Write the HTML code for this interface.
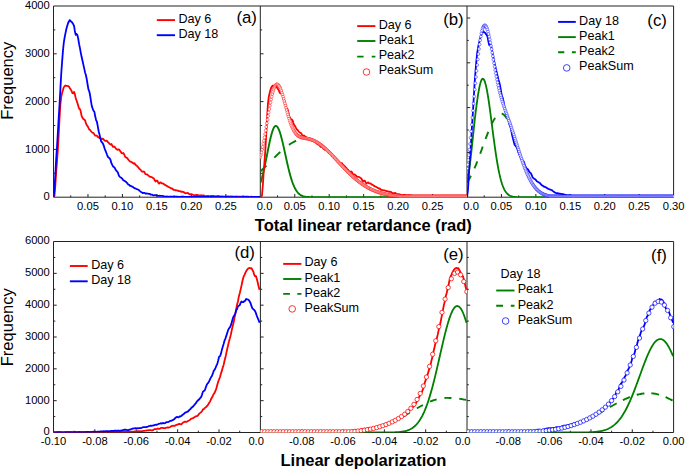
<!DOCTYPE html>
<html><head><meta charset="utf-8"><title>Histograms</title>
<style>html,body{margin:0;padding:0;background:#fff;overflow:hidden}svg{display:block}text{font-family:"Liberation Sans",sans-serif}</style>
</head><body>
<svg width="685" height="471" viewBox="0 0 685 471">
<rect width="685" height="471" fill="#fff"/>
<defs>
<clipPath id="ca"><rect x="53.5" y="3" width="206.8" height="194.2"/></clipPath>
<clipPath id="cb"><rect x="260.3" y="3" width="206.7" height="194.2"/></clipPath>
<clipPath id="cc"><rect x="467" y="3" width="206.6" height="194.2"/></clipPath>
<clipPath id="cd"><rect x="53.5" y="238.5" width="206.9" height="194"/></clipPath>
<clipPath id="ce"><rect x="260.4" y="238.5" width="206.6" height="194"/></clipPath>
<clipPath id="cf"><rect x="467" y="238.5" width="206.6" height="194"/></clipPath>
</defs>
<path d="M53.5 6 H673.6 V197.2 H53.5 Z" fill="none" stroke="#222" stroke-width="1"/>
<path d="M260.3 6 V197.2" stroke="#222" stroke-width="1"/>
<path d="M467 6 V197.2" stroke="#222" stroke-width="1"/>
<path d="M53.5 241.5 H673.6 V432.5 H53.5 Z" fill="none" stroke="#222" stroke-width="1"/>
<path d="M260.4 241.5 V432.5" stroke="#222" stroke-width="1"/>
<path d="M467 241.5 V432.5" stroke="#222" stroke-width="1"/>
<path d="M70.73 197.2 v-1.8 M87.97 197.2 v-3.2 M105.2 197.2 v-1.8 M122.43 197.2 v-3.2 M139.67 197.2 v-1.8 M156.9 197.2 v-3.2 M174.13 197.2 v-1.8 M191.37 197.2 v-3.2 M208.6 197.2 v-1.8 M225.83 197.2 v-3.2 M243.07 197.2 v-1.8 M277.53 197.2 v-1.8 M294.75 197.2 v-3.2 M311.98 197.2 v-1.8 M329.2 197.2 v-3.2 M346.43 197.2 v-1.8 M363.65 197.2 v-3.2 M380.88 197.2 v-1.8 M398.1 197.2 v-3.2 M415.32 197.2 v-1.8 M432.55 197.2 v-3.2 M449.77 197.2 v-1.8 M484.22 197.2 v-1.8 M501.43 197.2 v-3.2 M518.65 197.2 v-1.8 M535.87 197.2 v-3.2 M553.08 197.2 v-1.8 M570.3 197.2 v-3.2 M587.52 197.2 v-1.8 M604.73 197.2 v-3.2 M621.95 197.2 v-1.8 M639.17 197.2 v-3.2 M656.38 197.2 v-1.8 M53.5 173.3 h1.8 M53.5 149.4 h3.2 M53.5 125.5 h1.8 M53.5 101.6 h3.2 M53.5 77.7 h1.8 M53.5 53.8 h3.2 M53.5 29.9 h1.8 M260.3 173.3 h1.8 M260.3 149.4 h3.2 M260.3 125.5 h1.8 M260.3 101.6 h3.2 M260.3 77.7 h1.8 M260.3 53.8 h3.2 M260.3 29.9 h1.8 M467 174.8 h1.8 M467 152.4 h3.2 M467 130 h1.8 M467 107.6 h3.2 M467 85.2 h1.8 M467 62.8 h3.2 M467 40.4 h1.8 M467 18 h3.2 M74.19 432.5 v-1.8 M94.88 432.5 v-3.2 M115.57 432.5 v-1.8 M136.26 432.5 v-3.2 M156.95 432.5 v-1.8 M177.64 432.5 v-3.2 M198.33 432.5 v-1.8 M219.02 432.5 v-3.2 M239.71 432.5 v-1.8 M281.06 432.5 v-1.8 M301.72 432.5 v-3.2 M322.38 432.5 v-1.8 M343.04 432.5 v-3.2 M363.7 432.5 v-1.8 M384.36 432.5 v-3.2 M405.02 432.5 v-1.8 M425.68 432.5 v-3.2 M446.34 432.5 v-1.8 M487.66 432.5 v-1.8 M508.32 432.5 v-3.2 M528.98 432.5 v-1.8 M549.64 432.5 v-3.2 M570.3 432.5 v-1.8 M590.96 432.5 v-3.2 M611.62 432.5 v-1.8 M632.28 432.5 v-3.2 M652.94 432.5 v-1.8 M53.5 416.58 h1.8 M53.5 400.67 h3.2 M53.5 384.75 h1.8 M53.5 368.84 h3.2 M53.5 352.93 h1.8 M53.5 337.01 h3.2 M53.5 321.1 h1.8 M53.5 305.18 h3.2 M53.5 289.26 h1.8 M53.5 273.35 h3.2 M53.5 257.44 h1.8 M260.4 416.58 h1.8 M260.4 400.67 h3.2 M260.4 384.75 h1.8 M260.4 368.84 h3.2 M260.4 352.93 h1.8 M260.4 337.01 h3.2 M260.4 321.1 h1.8 M260.4 305.18 h3.2 M260.4 289.26 h1.8 M260.4 273.35 h3.2 M260.4 257.44 h1.8 M467 416.58 h1.8 M467 400.67 h3.2 M467 384.75 h1.8 M467 368.84 h3.2 M467 352.93 h1.8 M467 337.01 h3.2 M467 321.1 h1.8 M467 305.18 h3.2 M467 289.26 h1.8 M467 273.35 h3.2 M467 257.44 h1.8" stroke="#222" stroke-width="1"/>
<path d="M53.6 197.2 L54.45 195.61 L55.3 185.87 L56.15 172.64 L57 161.56 L57.85 149.89 L58.7 135.01 L59.55 118.19 L60.4 104.29 L61.25 96.89 L62.1 93.1 L62.95 90.08 L63.8 87.3 L64.65 86.21 L65.5 85.49 L66.35 85.93 L67.2 85.96 L68.05 86.05 L68.9 86.58 L69.75 88.01 L70.6 89.32 L71.45 90.63 L72.3 93.03 L73.15 93.42 L74 91.85 L74.85 94.11 L75.7 98.05 L76.55 100.52 L77.4 102.93 L78.25 105.75 L79.1 108.72 L79.95 109.03 L80.8 111.84 L81.65 116.09 L82.5 117.82 L83.35 119.08 L84.2 119.52 L85.05 120.34 L85.9 123.12 L86.75 125.06 L87.6 126.05 L88.45 127.89 L89.3 129.46 L90.15 130.02 L91 131.22 L91.85 132.22 L92.7 132.69 L93.55 133.14 L94.4 134.55 L95.25 135.6 L96.1 135.65 L96.95 135.71 L97.8 136.89 L98.65 137.26 L99.5 138.01 L100.35 137.87 L101.2 139.1 L102.05 139.05 L102.9 138.6 L103.75 139.54 L104.6 140.56 L105.45 140.99 L106.3 140.6 L107.15 141.05 L108 142.35 L108.85 142.91 L109.7 143.95 L110.55 144.5 L111.4 143.96 L112.25 145.57 L113.1 146.95 L113.95 146.6 L114.8 146.86 L115.65 148.33 L116.5 149.11 L117.35 149.78 L118.2 149.46 L119.05 149.38 L119.9 150.66 L120.75 151.72 L121.6 153.08 L122.45 153.37 L123.3 153 L124.15 154.24 L125 156.55 L125.85 157.47 L126.7 157.57 L127.55 158.58 L128.4 159.75 L129.25 160.66 L130.1 161.48 L130.95 161.79 L131.8 162.1 L132.65 162.88 L133.5 163.67 L134.35 163.09 L135.2 164.44 L136.05 165.39 L136.9 165.64 L137.75 166.9 L138.6 167.68 L139.45 168.88 L140.3 169.47 L141.15 170.55 L142 171.58 L142.85 171.73 L143.7 171.51 L144.55 172.24 L145.4 174.2 L146.25 174.32 L147.1 174.41 L147.95 175.2 L148.8 175.82 L149.65 176.6 L150.5 176.81 L151.35 176.99 L152.2 177.31 L153.05 178.08 L153.9 178.58 L154.75 180.37 L155.6 181.43 L156.45 180.59 L157.3 180.59 L158.15 182.48 L159 183.59 L159.85 182.56 L160.7 182.5 L161.55 183.36 L162.4 183.36 L163.25 183.66 L164.1 184.26 L164.95 184.95 L165.8 185.28 L166.65 185.93 L167.5 186.35 L168.35 186.71 L169.2 187.32 L170.05 187.77 L170.9 188.34 L171.75 188.39 L172.6 188.89 L173.45 189.91 L174.3 189.91 L175.15 190.03 L176 190.34 L176.85 190.32 L177.7 190.58 L178.55 191.05 L179.4 191.17 L180.25 191.16 L181.1 191.78 L181.95 191.76 L182.8 191.75 L183.65 192.08 L184.5 192.73 L185.35 193.35 L186.2 193.06 L187.05 193.15 L187.9 193 L188.75 193.67 L189.6 194.19 L190.45 194.06 L191.3 194.07 L192.15 194.45 L193 194.77 L193.85 195.03 L194.7 195.3 L195.55 195.02 L196.4 194.85 L197.25 195 L198.1 195.16 L198.95 195.29 L199.8 195.37 L200.65 195.36 L201.5 195.26 L202.35 195.59 L203.2 195.51 L204.05 195.49 L204.9 195.85 L205.75 196.05 L206.6 195.98 L207.45 195.86 L208.3 195.91 L209.15 196.36 L210 196.17 L210.85 195.83 L211.7 195.85 L212.55 195.94 L213.4 195.86 L214.25 196.02 L215.1 196.11 L215.95 196.32 L216.8 196.22 L217.65 195.87 L218.5 196.02 L219.35 196.07 L220.2 196.32 L221.05 196.35 L221.9 196.32 L222.75 196.28 L223.6 196.58 L224.45 196.61 L225.3 196.35 L226.15 196.38 L227 196.36 L227.85 196.37 L228.7 196.4 L229.55 196.6 L230.4 196.46 L231.25 196.48 L232.1 196.56 L232.95 196.51 L233.8 196.53 L234.65 196.54 L235.5 196.56 L236.35 196.52 L237.2 196.58 L238.05 196.63 L238.9 196.65 L239.75 196.68 L240.6 196.71 L241.45 196.76 L242.3 196.72 L243.15 196.71 L244 196.69 L244.85 196.68 L245.7 196.68 L246.55 196.76 L247.4 196.7 L248.25 196.73 L249.1 196.82 L249.95 196.84 L250.8 196.76 L251.65 196.7 L252.5 196.82 L253.35 196.84 L254.2 196.78 L255.05 196.86 L255.9 196.81 L256.75 196.79 L257.6 196.86 L258.45 196.88 L259.3 196.87 L260.15 196.81" fill="none" stroke="#ff0000" stroke-width="1.8" stroke-linejoin="round" clip-path="url(#ca)"/>
<path d="M53.6 197.2 L54.45 189.67 L55.3 174.69 L56.15 159.39 L57 146.87 L57.85 132.91 L58.7 117.93 L59.55 104.12 L60.4 88.69 L61.25 73.5 L62.1 61.9 L62.95 50.97 L63.8 42.68 L64.65 37.27 L65.5 33.09 L66.35 29.04 L67.2 26.11 L68.05 23.23 L68.9 21.52 L69.75 20.07 L70.6 21.14 L71.45 21.66 L72.3 22.78 L73.15 24.1 L74 25.7 L74.85 30.98 L75.7 34.93 L76.55 33.95 L77.4 35.12 L78.25 38.85 L79.1 44.18 L79.95 48.08 L80.8 52.84 L81.65 57.07 L82.5 60.8 L83.35 64.58 L84.2 68.42 L85.05 72.53 L85.9 75.02 L86.75 79.21 L87.6 84.51 L88.45 89.38 L89.3 91.54 L90.15 95.52 L91 101.32 L91.85 106.28 L92.7 108.6 L93.55 110.74 L94.4 111.79 L95.25 116.58 L96.1 120.05 L96.95 121.97 L97.8 126.41 L98.65 131.23 L99.5 134.56 L100.35 138.27 L101.2 141.47 L102.05 142.38 L102.9 143.55 L103.75 145.59 L104.6 148.53 L105.45 150.63 L106.3 152.74 L107.15 155.06 L108 157.06 L108.85 157.7 L109.7 158.41 L110.55 159.98 L111.4 163.18 L112.25 164.87 L113.1 166.53 L113.95 167.11 L114.8 167.99 L115.65 169.82 L116.5 170.94 L117.35 171.68 L118.2 173.49 L119.05 175.94 L119.9 176.83 L120.75 177.54 L121.6 178.09 L122.45 178.91 L123.3 180.25 L124.15 180.7 L125 181.07 L125.85 181.85 L126.7 182.45 L127.55 183.62 L128.4 184.54 L129.25 184.8 L130.1 185.8 L130.95 185.95 L131.8 186.45 L132.65 186.81 L133.5 187.5 L134.35 188.14 L135.2 188.45 L136.05 188.78 L136.9 189.2 L137.75 189.51 L138.6 189.81 L139.45 190.66 L140.3 191.46 L141.15 192.01 L142 192.5 L142.85 193.12 L143.7 192.84 L144.55 192.89 L145.4 193.5 L146.25 193.32 L147.1 193.7 L147.95 193.7 L148.8 193.89 L149.65 193.82 L150.5 194.49 L151.35 194.55 L152.2 194.64 L153.05 195.28 L153.9 195.35 L154.75 195.21 L155.6 195.17 L156.45 195.37 L157.3 195.56 L158.15 195.81 L159 195.87 L159.85 195.73 L160.7 195.79 L161.55 195.89 L162.4 195.95 L163.25 196.14 L164.1 196.34 L164.95 196.53 L165.8 196.6 L166.65 196.49 L167.5 196.55 L168.35 196.61 L169.2 196.77 L170.05 196.69 L170.9 196.65 L171.75 196.57 L172.6 196.59 L173.45 196.68 L174.3 196.69 L175.15 196.7 L176 196.64 L176.85 196.73 L177.7 196.75 L178.55 196.86 L179.4 196.82 L180.25 196.82 L181.1 196.73 L181.95 196.77 L182.8 196.74 L183.65 196.76 L184.5 196.8 L185.35 196.81 L186.2 196.86 L187.05 196.9 L187.9 196.9 L188.75 196.82 L189.6 196.74 L190.45 196.77 L191.3 196.79 L192.15 196.74 L193 196.87 L193.85 196.87 L194.7 196.87 L195.55 196.94 L196.4 196.95 L197.25 196.89 L198.1 196.84 L198.95 196.9 L199.8 196.91 L200.65 196.88 L201.5 196.96 L202.35 196.92 L203.2 196.81 L204.05 196.86 L204.9 196.87 L205.75 196.97 L206.6 196.97 L207.45 196.86 L208.3 196.86 L209.15 196.91 L210 196.95 L210.85 197.02 L211.7 197 L212.55 196.95 L213.4 196.93 L214.25 196.85 L215.1 196.94 L215.95 196.99 L216.8 196.94 L217.65 196.92 L218.5 197 L219.35 197.06 L220.2 196.98 L221.05 196.92 L221.9 196.98 L222.75 196.89 L223.6 196.94 L224.45 196.95 L225.3 196.98 L226.15 196.96 L227 197.02 L227.85 196.97 L228.7 196.85 L229.55 196.83 L230.4 196.94 L231.25 197.03 L232.1 197 L232.95 196.97 L233.8 196.97 L234.65 197.01 L235.5 197.01 L236.35 196.98 L237.2 196.95 L238.05 197.04 L238.9 197.04 L239.75 196.97 L240.6 197.08 L241.45 197.04 L242.3 196.94 L243.15 196.89 L244 196.99 L244.85 197.01 L245.7 196.94 L246.55 196.91 L247.4 197 L248.25 196.97 L249.1 197 L249.95 197.15 L250.8 197.15 L251.65 197.06 L252.5 196.99 L253.35 196.98 L254.2 196.9 L255.05 196.95 L255.9 196.94 L256.75 196.9 L257.6 196.91 L258.45 197 L259.3 197.01 L260.15 197.01" fill="none" stroke="#0000ff" stroke-width="1.8" stroke-linejoin="round" clip-path="url(#ca)"/>
<path d="M260.4 182.85 L261.25 180.16 L262.1 177.15 L262.95 173.85 L263.8 170.27 L264.65 166.43 L265.5 162.4 L266.35 158.22 L267.2 153.95 L268.05 149.69 L268.9 145.52 L269.75 141.53 L270.6 137.81 L271.45 134.46 L272.3 131.57 L273.15 129.21 L274 127.44 L274.85 126.33 L275.7 125.9 L276.55 126.13 L277.4 126.93 L278.25 128.28 L279.1 130.16 L279.95 132.52 L280.8 135.31 L281.65 138.45 L282.5 141.89 L283.35 145.56 L284.2 149.37 L285.05 153.26 L285.9 157.17 L286.75 161.02 L287.6 164.77 L288.45 168.37 L289.3 171.78 L290.15 174.97 L291 177.91 L291.85 180.6 L292.7 183.04 L293.55 185.21 L294.4 187.13 L295.25 188.82 L296.1 190.28 L296.95 191.53 L297.8 192.59 L298.65 193.49 L299.5 194.23 L300.35 194.85 L301.2 195.35 L302.05 195.76 L302.9 196.08 L303.75 196.34 L304.6 196.55 L305.45 196.71 L306.3 196.83 L307.15 196.93 L308 197 L308.85 197.05 L309.7 197.09 L310.55 197.12 L311.4 197.15 L312.25 197.16 L313.1 197.17 L313.95 197.18 L314.8 197.19 L315.65 197.19 L316.5 197.19 L317.35 197.2 L318.2 197.2 L319.05 197.2 L319.9 197.2 L320.75 197.2 L321.6 197.2 L322.45 197.2 L323.3 197.2 L324.15 197.2 L325 197.2 L325.85 197.2 L326.7 197.2 L327.55 197.2 L328.4 197.2 L329.25 197.2 L330.1 197.2 L330.95 197.2 L331.8 197.2 L332.65 197.2 L333.5 197.2 L334.35 197.2 L335.2 197.2 L336.05 197.2 L336.9 197.2 L337.75 197.2 L338.6 197.2 L339.45 197.2 L340.3 197.2 L341.15 197.2 L342 197.2 L342.85 197.2 L343.7 197.2 L344.55 197.2 L345.4 197.2 L346.25 197.2 L347.1 197.2 L347.95 197.2 L348.8 197.2 L349.65 197.2 L350.5 197.2 L351.35 197.2 L352.2 197.2 L353.05 197.2 L353.9 197.2 L354.75 197.2 L355.6 197.2 L356.45 197.2 L357.3 197.2 L358.15 197.2 L359 197.2 L359.85 197.2 L360.7 197.2 L361.55 197.2 L362.4 197.2 L363.25 197.2 L364.1 197.2 L364.95 197.2 L365.8 197.2 L366.65 197.2 L367.5 197.2 L368.35 197.2 L369.2 197.2 L370.05 197.2 L370.9 197.2 L371.75 197.2 L372.6 197.2 L373.45 197.2 L374.3 197.2 L375.15 197.2 L376 197.2 L376.85 197.2 L377.7 197.2 L378.55 197.2 L379.4 197.2 L380.25 197.2 L381.1 197.2 L381.95 197.2 L382.8 197.2 L383.65 197.2 L384.5 197.2 L385.35 197.2 L386.2 197.2 L387.05 197.2 L387.9 197.2 L388.75 197.2 L389.6 197.2 L390.45 197.2 L391.3 197.2 L392.15 197.2 L393 197.2 L393.85 197.2 L394.7 197.2 L395.55 197.2 L396.4 197.2 L397.25 197.2 L398.1 197.2 L398.95 197.2 L399.8 197.2 L400.65 197.2 L401.5 197.2 L402.35 197.2 L403.2 197.2 L404.05 197.2 L404.9 197.2 L405.75 197.2 L406.6 197.2 L407.45 197.2 L408.3 197.2 L409.15 197.2 L410 197.2 L410.85 197.2 L411.7 197.2 L412.55 197.2 L413.4 197.2 L414.25 197.2 L415.1 197.2 L415.95 197.2 L416.8 197.2 L417.65 197.2 L418.5 197.2 L419.35 197.2 L420.2 197.2 L421.05 197.2 L421.9 197.2 L422.75 197.2 L423.6 197.2 L424.45 197.2 L425.3 197.2 L426.15 197.2 L427 197.2 L427.85 197.2 L428.7 197.2 L429.55 197.2 L430.4 197.2 L431.25 197.2 L432.1 197.2 L432.95 197.2 L433.8 197.2 L434.65 197.2 L435.5 197.2 L436.35 197.2 L437.2 197.2 L438.05 197.2 L438.9 197.2 L439.75 197.2 L440.6 197.2 L441.45 197.2 L442.3 197.2 L443.15 197.2 L444 197.2 L444.85 197.2 L445.7 197.2 L446.55 197.2 L447.4 197.2 L448.25 197.2 L449.1 197.2 L449.95 197.2 L450.8 197.2 L451.65 197.2 L452.5 197.2 L453.35 197.2 L454.2 197.2 L455.05 197.2 L455.9 197.2 L456.75 197.2 L457.6 197.2 L458.45 197.2 L459.3 197.2 L460.15 197.2 L461 197.2 L461.85 197.2 L462.7 197.2 L463.55 197.2 L464.4 197.2 L465.25 197.2 L466.1 197.2 L466.95 197.2" fill="none" stroke="#008000" stroke-width="1.9" stroke-linejoin="round" clip-path="url(#cb)"/>
<path d="M260.4 171.38 L261.25 170.58 L262.1 169.77 L262.95 168.96 L263.8 168.13 L264.65 167.3 L265.5 166.47 L266.35 165.63 L267.2 164.78 L268.05 163.93 L268.9 163.08 L269.75 162.23 L270.6 161.38 L271.45 160.52 L272.3 159.67 L273.15 158.83 L274 157.98 L274.85 157.14 L275.7 156.31 L276.55 155.48 L277.4 154.66 L278.25 153.85 L279.1 153.05 L279.95 152.26 L280.8 151.48 L281.65 150.72 L282.5 149.97 L283.35 149.24 L284.2 148.52 L285.05 147.82 L285.9 147.14 L286.75 146.48 L287.6 145.85 L288.45 145.23 L289.3 144.64 L290.15 144.07 L291 143.52 L291.85 143.01 L292.7 142.52 L293.55 142.05 L294.4 141.62 L295.25 141.21 L296.1 140.83 L296.95 140.49 L297.8 140.17 L298.65 139.89 L299.5 139.64 L300.35 139.42 L301.2 139.23 L302.05 139.08 L302.9 138.96 L303.75 138.87 L304.6 138.82 L305.45 138.8 L306.3 138.82 L307.15 138.87 L308 138.97 L308.85 139.1 L309.7 139.28 L310.55 139.49 L311.4 139.74 L312.25 140.03 L313.1 140.35 L313.95 140.71 L314.8 141.1 L315.65 141.53 L316.5 142 L317.35 142.49 L318.2 143.02 L319.05 143.58 L319.9 144.17 L320.75 144.79 L321.6 145.44 L322.45 146.11 L323.3 146.81 L324.15 147.53 L325 148.27 L325.85 149.04 L326.7 149.82 L327.55 150.62 L328.4 151.45 L329.25 152.28 L330.1 153.13 L330.95 154 L331.8 154.87 L332.65 155.76 L333.5 156.65 L334.35 157.55 L335.2 158.46 L336.05 159.37 L336.9 160.29 L337.75 161.21 L338.6 162.12 L339.45 163.04 L340.3 163.96 L341.15 164.87 L342 165.78 L342.85 166.69 L343.7 167.58 L344.55 168.48 L345.4 169.36 L346.25 170.23 L347.1 171.1 L347.95 171.95 L348.8 172.79 L349.65 173.62 L350.5 174.44 L351.35 175.24 L352.2 176.03 L353.05 176.81 L353.9 177.57 L354.75 178.31 L355.6 179.04 L356.45 179.75 L357.3 180.44 L358.15 181.12 L359 181.78 L359.85 182.43 L360.7 183.05 L361.55 183.66 L362.4 184.25 L363.25 184.83 L364.1 185.38 L364.95 185.92 L365.8 186.45 L366.65 186.95 L367.5 187.44 L368.35 187.91 L369.2 188.36 L370.05 188.8 L370.9 189.22 L371.75 189.62 L372.6 190.01 L373.45 190.39 L374.3 190.75 L375.15 191.09 L376 191.42 L376.85 191.73 L377.7 192.04 L378.55 192.32 L379.4 192.6 L380.25 192.86 L381.1 193.11 L381.95 193.35 L382.8 193.58 L383.65 193.79 L384.5 194 L385.35 194.19 L386.2 194.38 L387.05 194.55 L387.9 194.72 L388.75 194.88 L389.6 195.03 L390.45 195.17 L391.3 195.3 L392.15 195.43 L393 195.54 L393.85 195.65 L394.7 195.76 L395.55 195.86 L396.4 195.95 L397.25 196.04 L398.1 196.12 L398.95 196.2 L399.8 196.27 L400.65 196.34 L401.5 196.4 L402.35 196.46 L403.2 196.51 L404.05 196.56 L404.9 196.61 L405.75 196.66 L406.6 196.7 L407.45 196.74 L408.3 196.77 L409.15 196.81 L410 196.84 L410.85 196.87 L411.7 196.89 L412.55 196.92 L413.4 196.94 L414.25 196.96 L415.1 196.98 L415.95 197 L416.8 197.02 L417.65 197.03 L418.5 197.05 L419.35 197.06 L420.2 197.07 L421.05 197.08 L421.9 197.09 L422.75 197.1 L423.6 197.11 L424.45 197.12 L425.3 197.13 L426.15 197.13 L427 197.14 L427.85 197.14 L428.7 197.15 L429.55 197.15 L430.4 197.16 L431.25 197.16 L432.1 197.17 L432.95 197.17 L433.8 197.17 L434.65 197.18 L435.5 197.18 L436.35 197.18 L437.2 197.18 L438.05 197.18 L438.9 197.19 L439.75 197.19 L440.6 197.19 L441.45 197.19 L442.3 197.19 L443.15 197.19 L444 197.19 L444.85 197.19 L445.7 197.19 L446.55 197.19 L447.4 197.2 L448.25 197.2 L449.1 197.2 L449.95 197.2 L450.8 197.2 L451.65 197.2 L452.5 197.2 L453.35 197.2 L454.2 197.2 L455.05 197.2 L455.9 197.2 L456.75 197.2 L457.6 197.2 L458.45 197.2 L459.3 197.2 L460.15 197.2 L461 197.2 L461.85 197.2 L462.7 197.2 L463.55 197.2 L464.4 197.2 L465.25 197.2 L466.1 197.2 L466.95 197.2" fill="none" stroke="#008000" stroke-width="1.9" stroke-dasharray="8.3 11.2" stroke-dashoffset="0" clip-path="url(#cb)"/>
<path d="M261.1 197.2 L261.95 195.61 L262.8 185.87 L263.65 172.64 L264.5 161.56 L265.35 149.89 L266.2 135.01 L267.05 118.19 L267.9 104.29 L268.75 96.89 L269.6 93.1 L270.45 90.08 L271.3 87.3 L272.15 86.21 L273 85.49 L273.85 85.93 L274.7 85.96 L275.55 86.05 L276.4 86.58 L277.25 88.01 L278.1 89.32 L278.95 90.63 L279.8 93.03 L280.65 93.42 L281.5 91.85 L282.35 94.11 L283.2 98.05 L284.05 100.52 L284.9 102.93 L285.75 105.75 L286.6 108.72 L287.45 109.03 L288.3 111.84 L289.15 116.09 L290 117.82 L290.85 119.08 L291.7 119.52 L292.55 120.34 L293.4 123.12 L294.25 125.06 L295.1 126.05 L295.95 127.89 L296.8 129.46 L297.65 130.02 L298.5 131.22 L299.35 132.22 L300.2 132.69 L301.05 133.14 L301.9 134.55 L302.75 135.6 L303.6 135.65 L304.45 135.71 L305.3 136.89 L306.15 137.26 L307 138.01 L307.85 137.87 L308.7 139.1 L309.55 139.05 L310.4 138.6 L311.25 139.54 L312.1 140.56 L312.95 140.99 L313.8 140.6 L314.65 141.05 L315.5 142.35 L316.35 142.91 L317.2 143.95 L318.05 144.5 L318.9 143.96 L319.75 145.57 L320.6 146.95 L321.45 146.6 L322.3 146.86 L323.15 148.33 L324 149.11 L324.85 149.78 L325.7 149.46 L326.55 149.38 L327.4 150.66 L328.25 151.72 L329.1 153.08 L329.95 153.37 L330.8 153 L331.65 154.24 L332.5 156.55 L333.35 157.47 L334.2 157.57 L335.05 158.58 L335.9 159.75 L336.75 160.66 L337.6 161.48 L338.45 161.79 L339.3 162.1 L340.15 162.88 L341 163.67 L341.85 163.09 L342.7 164.44 L343.55 165.39 L344.4 165.64 L345.25 166.9 L346.1 167.68 L346.95 168.88 L347.8 169.47 L348.65 170.55 L349.5 171.58 L350.35 171.73 L351.2 171.51 L352.05 172.24 L352.9 174.2 L353.75 174.32 L354.6 174.41 L355.45 175.2 L356.3 175.82 L357.15 176.6 L358 176.81 L358.85 176.99 L359.7 177.31 L360.55 178.08 L361.4 178.58 L362.25 180.37 L363.1 181.43 L363.95 180.59 L364.8 180.59 L365.65 182.48 L366.5 183.59 L367.35 182.56 L368.2 182.5 L369.05 183.36 L369.9 183.36 L370.75 183.66 L371.6 184.26 L372.45 184.95 L373.3 185.28 L374.15 185.93 L375 186.35 L375.85 186.71 L376.7 187.32 L377.55 187.77 L378.4 188.34 L379.25 188.39 L380.1 188.89 L380.95 189.91 L381.8 189.91 L382.65 190.03 L383.5 190.34 L384.35 190.32 L385.2 190.58 L386.05 191.05 L386.9 191.17 L387.75 191.16 L388.6 191.78 L389.45 191.76 L390.3 191.75 L391.15 192.08 L392 192.73 L392.85 193.35 L393.7 193.06 L394.55 193.15 L395.4 193 L396.25 193.67 L397.1 194.19 L397.95 194.06 L398.8 194.07 L399.65 194.45 L400.5 194.77 L401.35 195.03 L402.2 195.3 L403.05 195.02 L403.9 194.85 L404.75 195 L405.6 195.16 L406.45 195.29 L407.3 195.37 L408.15 195.36 L409 195.26 L409.85 195.59 L410.7 195.51 L411.55 195.49 L412.4 195.85 L413.25 196.05 L414.1 195.98 L414.95 195.86 L415.8 195.91 L416.65 196.36 L417.5 196.17 L418.35 195.83 L419.2 195.85 L420.05 195.94 L420.9 195.86 L421.75 196.02 L422.6 196.11 L423.45 196.32 L424.3 196.22 L425.15 195.87 L426 196.02 L426.85 196.07 L427.7 196.32 L428.55 196.35 L429.4 196.32 L430.25 196.28 L431.1 196.58 L431.95 196.61 L432.8 196.35 L433.65 196.38 L434.5 196.36 L435.35 196.37 L436.2 196.4 L437.05 196.6 L437.9 196.46 L438.75 196.48 L439.6 196.56 L440.45 196.51 L441.3 196.53 L442.15 196.54 L443 196.56 L443.85 196.52 L444.7 196.58 L445.55 196.63 L446.4 196.65 L447.25 196.68 L448.1 196.71 L448.95 196.76 L449.8 196.72 L450.65 196.71 L451.5 196.69 L452.35 196.68 L453.2 196.68 L454.05 196.76 L454.9 196.7 L455.75 196.73 L456.6 196.82 L457.45 196.84 L458.3 196.76 L459.15 196.7 L460 196.82 L460.85 196.84 L461.7 196.78 L462.55 196.86 L463.4 196.81 L464.25 196.79 L465.1 196.86 L465.95 196.88 L466.8 196.87 L467.65 196.81" fill="none" stroke="#ff0000" stroke-width="1.8" stroke-linejoin="round" clip-path="url(#cb)"/>
<g fill="#fff" stroke="#ff0000" stroke-width="0.5" clip-path="url(#cb)"><circle cx="260.3" cy="157.42" r="1.4"/><circle cx="260.9" cy="155.02" r="1.4"/><circle cx="261.5" cy="152.45" r="1.4"/><circle cx="262.1" cy="149.73" r="1.4"/><circle cx="262.7" cy="146.85" r="1.4"/><circle cx="263.3" cy="143.83" r="1.4"/><circle cx="263.9" cy="140.66" r="1.4"/><circle cx="264.5" cy="137.38" r="1.4"/><circle cx="265.1" cy="133.98" r="1.4"/><circle cx="265.7" cy="130.49" r="1.4"/><circle cx="266.3" cy="126.94" r="1.4"/><circle cx="266.9" cy="123.34" r="1.4"/><circle cx="267.5" cy="119.73" r="1.4"/><circle cx="268.1" cy="116.13" r="1.4"/><circle cx="268.7" cy="112.57" r="1.4"/><circle cx="269.3" cy="109.1" r="1.4"/><circle cx="269.9" cy="105.73" r="1.4"/><circle cx="270.5" cy="102.51" r="1.4"/><circle cx="271.1" cy="99.47" r="1.4"/><circle cx="271.7" cy="96.63" r="1.4"/><circle cx="272.3" cy="94.04" r="1.4"/><circle cx="272.9" cy="91.72" r="1.4"/><circle cx="273.5" cy="89.68" r="1.4"/><circle cx="274.1" cy="87.96" r="1.4"/><circle cx="274.7" cy="86.57" r="1.4"/><circle cx="275.3" cy="85.52" r="1.4"/><circle cx="275.9" cy="84.81" r="1.4"/><circle cx="276.5" cy="84.42" r="1.4"/><circle cx="277.1" cy="84.33" r="1.4"/><circle cx="277.7" cy="84.51" r="1.4"/><circle cx="278.3" cy="84.98" r="1.4"/><circle cx="278.9" cy="85.71" r="1.4"/><circle cx="279.5" cy="86.69" r="1.4"/><circle cx="280.1" cy="87.9" r="1.4"/><circle cx="280.7" cy="89.33" r="1.4"/><circle cx="281.3" cy="90.95" r="1.4"/><circle cx="281.9" cy="92.73" r="1.4"/><circle cx="282.5" cy="94.66" r="1.4"/><circle cx="283.1" cy="96.71" r="1.4"/><circle cx="283.7" cy="98.85" r="1.4"/><circle cx="284.3" cy="101.06" r="1.4"/><circle cx="284.9" cy="103.32" r="1.4"/><circle cx="285.5" cy="105.59" r="1.4"/><circle cx="286.1" cy="107.87" r="1.4"/><circle cx="286.7" cy="110.12" r="1.4"/><circle cx="287.3" cy="112.33" r="1.4"/><circle cx="287.9" cy="114.49" r="1.4"/><circle cx="288.5" cy="116.57" r="1.4"/><circle cx="289.1" cy="118.57" r="1.4"/><circle cx="289.7" cy="120.47" r="1.4"/><circle cx="290.3" cy="122.27" r="1.4"/><circle cx="290.9" cy="123.97" r="1.4"/><circle cx="291.5" cy="125.54" r="1.4"/><circle cx="292.1" cy="127.01" r="1.4"/><circle cx="292.7" cy="128.35" r="1.4"/><circle cx="293.3" cy="129.58" r="1.4"/><circle cx="293.9" cy="130.7" r="1.4"/><circle cx="294.5" cy="131.71" r="1.4"/><circle cx="295.1" cy="132.62" r="1.4"/><circle cx="295.7" cy="133.42" r="1.4"/><circle cx="296.3" cy="134.14" r="1.4"/><circle cx="296.9" cy="134.77" r="1.4"/><circle cx="297.5" cy="135.32" r="1.4"/><circle cx="298.1" cy="135.79" r="1.4"/><circle cx="298.7" cy="136.21" r="1.4"/><circle cx="299.3" cy="136.56" r="1.4"/><circle cx="299.9" cy="136.87" r="1.4"/><circle cx="300.5" cy="137.12" r="1.4"/><circle cx="301.1" cy="137.35" r="1.4"/><circle cx="301.7" cy="137.54" r="1.4"/><circle cx="302.3" cy="137.7" r="1.4"/><circle cx="302.9" cy="137.84" r="1.4"/><circle cx="303.5" cy="137.97" r="1.4"/><circle cx="304.1" cy="138.08" r="1.4"/><circle cx="304.7" cy="138.18" r="1.4"/><circle cx="305.3" cy="138.28" r="1.4"/><circle cx="305.9" cy="138.38" r="1.4"/><circle cx="306.5" cy="138.48" r="1.4"/><circle cx="307.1" cy="138.59" r="1.4"/><circle cx="307.7" cy="138.71" r="1.4"/><circle cx="308.3" cy="138.83" r="1.4"/><circle cx="308.9" cy="138.97" r="1.4"/><circle cx="309.5" cy="139.12" r="1.4"/><circle cx="310.1" cy="139.28" r="1.4"/><circle cx="310.7" cy="139.46" r="1.4"/><circle cx="311.3" cy="139.65" r="1.4"/><circle cx="311.9" cy="139.86" r="1.4"/><circle cx="312.5" cy="140.08" r="1.4"/><circle cx="313.1" cy="140.32" r="1.4"/><circle cx="313.7" cy="140.58" r="1.4"/><circle cx="314.3" cy="140.85" r="1.4"/><circle cx="314.9" cy="141.14" r="1.4"/><circle cx="315.5" cy="141.45" r="1.4"/><circle cx="316.1" cy="141.77" r="1.4"/><circle cx="316.7" cy="142.11" r="1.4"/><circle cx="317.3" cy="142.46" r="1.4"/><circle cx="317.9" cy="142.83" r="1.4"/><circle cx="318.5" cy="143.21" r="1.4"/><circle cx="319.1" cy="143.61" r="1.4"/><circle cx="319.7" cy="144.03" r="1.4"/><circle cx="320.3" cy="144.46" r="1.4"/><circle cx="320.9" cy="144.9" r="1.4"/><circle cx="321.5" cy="145.36" r="1.4"/><circle cx="322.1" cy="145.83" r="1.4"/><circle cx="322.7" cy="146.31" r="1.4"/><circle cx="323.3" cy="146.81" r="1.4"/><circle cx="323.9" cy="147.31" r="1.4"/><circle cx="324.5" cy="147.83" r="1.4"/><circle cx="325.1" cy="148.36" r="1.4"/><circle cx="325.7" cy="148.9" r="1.4"/><circle cx="326.3" cy="149.45" r="1.4"/><circle cx="326.9" cy="150.01" r="1.4"/><circle cx="327.5" cy="150.58" r="1.4"/><circle cx="328.1" cy="151.15" r="1.4"/><circle cx="328.7" cy="151.74" r="1.4"/><circle cx="329.3" cy="152.33" r="1.4"/><circle cx="329.9" cy="152.93" r="1.4"/><circle cx="330.5" cy="153.54" r="1.4"/><circle cx="331.1" cy="154.15" r="1.4"/><circle cx="331.7" cy="154.77" r="1.4"/><circle cx="332.3" cy="155.39" r="1.4"/><circle cx="332.9" cy="156.02" r="1.4"/><circle cx="333.5" cy="156.65" r="1.4"/><circle cx="334.1" cy="157.29" r="1.4"/><circle cx="334.7" cy="157.93" r="1.4"/><circle cx="335.3" cy="158.57" r="1.4"/><circle cx="335.9" cy="159.21" r="1.4"/><circle cx="336.5" cy="159.86" r="1.4"/><circle cx="337.1" cy="160.5" r="1.4"/><circle cx="337.7" cy="161.15" r="1.4"/><circle cx="338.3" cy="161.8" r="1.4"/><circle cx="338.9" cy="162.45" r="1.4"/><circle cx="339.5" cy="163.1" r="1.4"/><circle cx="340.1" cy="163.74" r="1.4"/><circle cx="340.7" cy="164.39" r="1.4"/><circle cx="341.3" cy="165.03" r="1.4"/><circle cx="341.9" cy="165.67" r="1.4"/><circle cx="342.5" cy="166.31" r="1.4"/><circle cx="343.1" cy="166.95" r="1.4"/><circle cx="343.7" cy="167.58" r="1.4"/><circle cx="344.3" cy="168.21" r="1.4"/><circle cx="344.9" cy="168.84" r="1.4"/><circle cx="345.5" cy="169.46" r="1.4"/><circle cx="346.1" cy="170.08" r="1.4"/><circle cx="346.7" cy="170.69" r="1.4"/><circle cx="347.3" cy="171.3" r="1.4"/><circle cx="347.9" cy="171.9" r="1.4"/><circle cx="348.5" cy="172.5" r="1.4"/><circle cx="349.1" cy="173.09" r="1.4"/><circle cx="349.7" cy="173.67" r="1.4"/><circle cx="350.3" cy="174.25" r="1.4"/><circle cx="350.9" cy="174.82" r="1.4"/><circle cx="351.5" cy="175.38" r="1.4"/><circle cx="352.1" cy="175.94" r="1.4"/><circle cx="352.7" cy="176.49" r="1.4"/><circle cx="353.3" cy="177.03" r="1.4"/><circle cx="353.9" cy="177.57" r="1.4"/><circle cx="354.5" cy="178.09" r="1.4"/><circle cx="355.1" cy="178.61" r="1.4"/><circle cx="355.7" cy="179.12" r="1.4"/><circle cx="356.3" cy="179.62" r="1.4"/><circle cx="356.9" cy="180.12" r="1.4"/><circle cx="357.5" cy="180.61" r="1.4"/><circle cx="358.1" cy="181.08" r="1.4"/><circle cx="358.7" cy="181.55" r="1.4"/><circle cx="359.3" cy="182.01" r="1.4"/><circle cx="359.9" cy="182.46" r="1.4"/><circle cx="360.5" cy="182.91" r="1.4"/><circle cx="361.1" cy="183.34" r="1.4"/><circle cx="361.7" cy="183.77" r="1.4"/><circle cx="362.3" cy="184.19" r="1.4"/><circle cx="362.9" cy="184.59" r="1.4"/><circle cx="363.5" cy="184.99" r="1.4"/><circle cx="364.1" cy="185.38" r="1.4"/><circle cx="364.7" cy="185.77" r="1.4"/><circle cx="365.3" cy="186.14" r="1.4"/><circle cx="365.9" cy="186.51" r="1.4"/><circle cx="366.5" cy="186.86" r="1.4"/><circle cx="367.1" cy="187.21" r="1.4"/><circle cx="367.7" cy="187.55" r="1.4"/><circle cx="368.3" cy="187.88" r="1.4"/><circle cx="368.9" cy="188.2" r="1.4"/><circle cx="369.5" cy="188.52" r="1.4"/><circle cx="370.1" cy="188.82" r="1.4"/><circle cx="370.7" cy="189.12" r="1.4"/><circle cx="371.3" cy="189.41" r="1.4"/><circle cx="371.9" cy="189.69" r="1.4"/><circle cx="372.5" cy="189.97" r="1.4"/><circle cx="373.1" cy="190.23" r="1.4"/><circle cx="373.7" cy="190.49" r="1.4"/><circle cx="374.3" cy="190.75" r="1.4"/><circle cx="374.9" cy="190.99" r="1.4"/><circle cx="375.5" cy="191.23" r="1.4"/><circle cx="376.1" cy="191.46" r="1.4"/><circle cx="376.7" cy="191.68" r="1.4"/><circle cx="377.3" cy="191.9" r="1.4"/><circle cx="377.9" cy="192.11" r="1.4"/><circle cx="378.5" cy="192.31" r="1.4"/><circle cx="379.1" cy="192.5" r="1.4"/><circle cx="379.7" cy="192.69" r="1.4"/><circle cx="380.3" cy="192.88" r="1.4"/><circle cx="380.9" cy="193.06" r="1.4"/><circle cx="381.5" cy="193.23" r="1.4"/><circle cx="382.1" cy="193.39" r="1.4"/><circle cx="382.7" cy="193.55" r="1.4"/><circle cx="383.3" cy="193.71" r="1.4"/><circle cx="383.9" cy="193.86" r="1.4"/><circle cx="384.5" cy="194" r="1.4"/><circle cx="385.1" cy="194.14" r="1.4"/><circle cx="385.7" cy="194.27" r="1.4"/><circle cx="386.3" cy="194.4" r="1.4"/><circle cx="386.9" cy="194.52" r="1.4"/><circle cx="387.5" cy="194.64" r="1.4"/><circle cx="388.1" cy="194.76" r="1.4"/><circle cx="388.7" cy="194.87" r="1.4"/><circle cx="389.3" cy="194.98" r="1.4"/><circle cx="389.9" cy="195.08" r="1.4"/><circle cx="390.5" cy="195.18" r="1.4"/><circle cx="391.1" cy="195.27" r="1.4"/><circle cx="391.7" cy="195.36" r="1.4"/><circle cx="392.3" cy="195.45" r="1.4"/><circle cx="392.9" cy="195.53" r="1.4"/><circle cx="393.5" cy="195.61" r="1.4"/><circle cx="394.1" cy="195.69" r="1.4"/><circle cx="394.7" cy="195.76" r="1.4"/><circle cx="395.3" cy="195.83" r="1.4"/><circle cx="395.9" cy="195.9" r="1.4"/><circle cx="396.5" cy="195.96" r="1.4"/><circle cx="397.1" cy="196.02" r="1.4"/><circle cx="397.7" cy="196.08" r="1.4"/><circle cx="398.3" cy="196.14" r="1.4"/><circle cx="398.9" cy="196.19" r="1.4"/><circle cx="399.5" cy="196.24" r="1.4"/><circle cx="400.1" cy="196.29" r="1.4"/><circle cx="400.7" cy="196.3" r="1.4"/><circle cx="401.3" cy="196.3" r="1.4"/><circle cx="401.9" cy="196.3" r="1.4"/><circle cx="402.5" cy="196.3" r="1.4"/><circle cx="403.1" cy="196.3" r="1.4"/><circle cx="403.7" cy="196.3" r="1.4"/><circle cx="404.3" cy="196.3" r="1.4"/><circle cx="404.9" cy="196.3" r="1.4"/><circle cx="405.5" cy="196.3" r="1.4"/><circle cx="406.1" cy="196.3" r="1.4"/><circle cx="406.7" cy="196.3" r="1.4"/><circle cx="407.3" cy="196.3" r="1.4"/><circle cx="407.9" cy="196.3" r="1.4"/><circle cx="408.5" cy="196.3" r="1.4"/><circle cx="409.1" cy="196.3" r="1.4"/><circle cx="409.7" cy="196.3" r="1.4"/><circle cx="410.3" cy="196.3" r="1.4"/><circle cx="410.9" cy="196.3" r="1.4"/><circle cx="411.5" cy="196.3" r="1.4"/><circle cx="412.1" cy="196.3" r="1.4"/><circle cx="412.7" cy="196.3" r="1.4"/><circle cx="413.3" cy="196.3" r="1.4"/><circle cx="413.9" cy="196.3" r="1.4"/><circle cx="414.5" cy="196.3" r="1.4"/><circle cx="415.1" cy="196.3" r="1.4"/><circle cx="415.7" cy="196.3" r="1.4"/><circle cx="416.3" cy="196.3" r="1.4"/><circle cx="416.9" cy="196.3" r="1.4"/><circle cx="417.5" cy="196.3" r="1.4"/><circle cx="418.1" cy="196.3" r="1.4"/><circle cx="418.7" cy="196.3" r="1.4"/><circle cx="419.3" cy="196.3" r="1.4"/><circle cx="419.9" cy="196.3" r="1.4"/><circle cx="420.5" cy="196.3" r="1.4"/><circle cx="421.1" cy="196.3" r="1.4"/><circle cx="421.7" cy="196.3" r="1.4"/><circle cx="422.3" cy="196.3" r="1.4"/><circle cx="422.9" cy="196.3" r="1.4"/><circle cx="423.5" cy="196.3" r="1.4"/><circle cx="424.1" cy="196.3" r="1.4"/><circle cx="424.7" cy="196.3" r="1.4"/><circle cx="425.3" cy="196.3" r="1.4"/><circle cx="425.9" cy="196.3" r="1.4"/><circle cx="426.5" cy="196.3" r="1.4"/><circle cx="427.1" cy="196.3" r="1.4"/><circle cx="427.7" cy="196.3" r="1.4"/><circle cx="428.3" cy="196.3" r="1.4"/><circle cx="428.9" cy="196.3" r="1.4"/><circle cx="429.5" cy="196.3" r="1.4"/><circle cx="430.1" cy="196.3" r="1.4"/><circle cx="430.7" cy="196.3" r="1.4"/><circle cx="431.3" cy="196.3" r="1.4"/><circle cx="431.9" cy="196.3" r="1.4"/><circle cx="432.5" cy="196.3" r="1.4"/><circle cx="433.1" cy="196.3" r="1.4"/><circle cx="433.7" cy="196.3" r="1.4"/><circle cx="434.3" cy="196.3" r="1.4"/><circle cx="434.9" cy="196.3" r="1.4"/><circle cx="435.5" cy="196.3" r="1.4"/><circle cx="436.1" cy="196.3" r="1.4"/><circle cx="436.7" cy="196.3" r="1.4"/><circle cx="437.3" cy="196.3" r="1.4"/><circle cx="437.9" cy="196.3" r="1.4"/><circle cx="438.5" cy="196.3" r="1.4"/><circle cx="439.1" cy="196.3" r="1.4"/><circle cx="439.7" cy="196.3" r="1.4"/><circle cx="440.3" cy="196.3" r="1.4"/><circle cx="440.9" cy="196.3" r="1.4"/><circle cx="441.5" cy="196.3" r="1.4"/><circle cx="442.1" cy="196.3" r="1.4"/><circle cx="442.7" cy="196.3" r="1.4"/><circle cx="443.3" cy="196.3" r="1.4"/><circle cx="443.9" cy="196.3" r="1.4"/><circle cx="444.5" cy="196.3" r="1.4"/><circle cx="445.1" cy="196.3" r="1.4"/><circle cx="445.7" cy="196.3" r="1.4"/><circle cx="446.3" cy="196.3" r="1.4"/><circle cx="446.9" cy="196.3" r="1.4"/><circle cx="447.5" cy="196.3" r="1.4"/><circle cx="448.1" cy="196.3" r="1.4"/><circle cx="448.7" cy="196.3" r="1.4"/><circle cx="449.3" cy="196.3" r="1.4"/><circle cx="449.9" cy="196.3" r="1.4"/><circle cx="450.5" cy="196.3" r="1.4"/><circle cx="451.1" cy="196.3" r="1.4"/><circle cx="451.7" cy="196.3" r="1.4"/><circle cx="452.3" cy="196.3" r="1.4"/><circle cx="452.9" cy="196.3" r="1.4"/><circle cx="453.5" cy="196.3" r="1.4"/><circle cx="454.1" cy="196.3" r="1.4"/><circle cx="454.7" cy="196.3" r="1.4"/><circle cx="455.3" cy="196.3" r="1.4"/><circle cx="455.9" cy="196.3" r="1.4"/><circle cx="456.5" cy="196.3" r="1.4"/><circle cx="457.1" cy="196.3" r="1.4"/><circle cx="457.7" cy="196.3" r="1.4"/><circle cx="458.3" cy="196.3" r="1.4"/><circle cx="458.9" cy="196.3" r="1.4"/><circle cx="459.5" cy="196.3" r="1.4"/><circle cx="460.1" cy="196.3" r="1.4"/><circle cx="460.7" cy="196.3" r="1.4"/><circle cx="461.3" cy="196.3" r="1.4"/><circle cx="461.9" cy="196.3" r="1.4"/><circle cx="462.5" cy="196.3" r="1.4"/><circle cx="463.1" cy="196.3" r="1.4"/><circle cx="463.7" cy="196.3" r="1.4"/><circle cx="464.3" cy="196.3" r="1.4"/><circle cx="464.9" cy="196.3" r="1.4"/><circle cx="465.5" cy="196.3" r="1.4"/><circle cx="466.1" cy="196.3" r="1.4"/><circle cx="466.7" cy="196.3" r="1.4"/><circle cx="467.3" cy="196.3" r="1.4"/><circle cx="467.9" cy="196.3" r="1.4"/></g>
<path d="M467.1 182.76 L467.95 178.11 L468.8 172.63 L469.65 166.38 L470.5 159.44 L471.35 151.92 L472.2 144 L473.05 135.85 L473.9 127.66 L474.75 119.64 L475.6 112.73 L476.45 106.1 L477.3 99.88 L478.15 94.22 L479 89.26 L479.85 85.14 L480.7 81.96 L481.55 79.82 L482.4 78.77 L483.25 78.82 L484.1 79.89 L484.95 81.93 L485.8 84.89 L486.65 88.71 L487.5 93.28 L488.35 98.5 L489.2 104.25 L490.05 110.41 L490.9 116.84 L491.75 123.43 L492.6 130.05 L493.45 136.6 L494.3 142.97 L495.15 149.08 L496 154.86 L496.85 160.26 L497.7 165.25 L498.55 169.8 L499.4 173.9 L500.25 177.55 L501.1 180.77 L501.95 183.58 L502.8 186 L503.65 188.08 L504.5 189.83 L505.35 191.29 L506.2 192.51 L507.05 193.5 L507.9 194.31 L508.75 194.96 L509.6 195.48 L510.45 195.89 L511.3 196.21 L512.15 196.46 L513 196.65 L513.85 196.8 L514.7 196.91 L515.55 196.99 L516.4 197.05 L517.25 197.09 L518.1 197.12 L518.95 197.15 L519.8 197.16 L520.65 197.17 L521.5 197.18 L522.35 197.19 L523.2 197.19 L524.05 197.19 L524.9 197.2 L525.75 197.2 L526.6 197.2 L527.45 197.2 L528.3 197.2 L529.15 197.2 L530 197.2 L530.85 197.2 L531.7 197.2 L532.55 197.2 L533.4 197.2 L534.25 197.2 L535.1 197.2 L535.95 197.2 L536.8 197.2 L537.65 197.2 L538.5 197.2 L539.35 197.2 L540.2 197.2 L541.05 197.2 L541.9 197.2 L542.75 197.2 L543.6 197.2 L544.45 197.2 L545.3 197.2 L546.15 197.2 L547 197.2 L547.85 197.2 L548.7 197.2 L549.55 197.2 L550.4 197.2 L551.25 197.2 L552.1 197.2 L552.95 197.2 L553.8 197.2 L554.65 197.2 L555.5 197.2 L556.35 197.2 L557.2 197.2 L558.05 197.2 L558.9 197.2 L559.75 197.2 L560.6 197.2 L561.45 197.2 L562.3 197.2 L563.15 197.2 L564 197.2 L564.85 197.2 L565.7 197.2 L566.55 197.2 L567.4 197.2 L568.25 197.2 L569.1 197.2 L569.95 197.2 L570.8 197.2 L571.65 197.2 L572.5 197.2 L573.35 197.2 L574.2 197.2 L575.05 197.2 L575.9 197.2 L576.75 197.2 L577.6 197.2 L578.45 197.2 L579.3 197.2 L580.15 197.2 L581 197.2 L581.85 197.2 L582.7 197.2 L583.55 197.2 L584.4 197.2 L585.25 197.2 L586.1 197.2 L586.95 197.2 L587.8 197.2 L588.65 197.2 L589.5 197.2 L590.35 197.2 L591.2 197.2 L592.05 197.2 L592.9 197.2 L593.75 197.2 L594.6 197.2 L595.45 197.2 L596.3 197.2 L597.15 197.2 L598 197.2 L598.85 197.2 L599.7 197.2 L600.55 197.2 L601.4 197.2 L602.25 197.2 L603.1 197.2 L603.95 197.2 L604.8 197.2 L605.65 197.2 L606.5 197.2 L607.35 197.2 L608.2 197.2 L609.05 197.2 L609.9 197.2 L610.75 197.2 L611.6 197.2 L612.45 197.2 L613.3 197.2 L614.15 197.2 L615 197.2 L615.85 197.2 L616.7 197.2 L617.55 197.2 L618.4 197.2 L619.25 197.2 L620.1 197.2 L620.95 197.2 L621.8 197.2 L622.65 197.2 L623.5 197.2 L624.35 197.2 L625.2 197.2 L626.05 197.2 L626.9 197.2 L627.75 197.2 L628.6 197.2 L629.45 197.2 L630.3 197.2 L631.15 197.2 L632 197.2 L632.85 197.2 L633.7 197.2 L634.55 197.2 L635.4 197.2 L636.25 197.2 L637.1 197.2 L637.95 197.2 L638.8 197.2 L639.65 197.2 L640.5 197.2 L641.35 197.2 L642.2 197.2 L643.05 197.2 L643.9 197.2 L644.75 197.2 L645.6 197.2 L646.45 197.2 L647.3 197.2 L648.15 197.2 L649 197.2 L649.85 197.2 L650.7 197.2 L651.55 197.2 L652.4 197.2 L653.25 197.2 L654.1 197.2 L654.95 197.2 L655.8 197.2 L656.65 197.2 L657.5 197.2 L658.35 197.2 L659.2 197.2 L660.05 197.2 L660.9 197.2 L661.75 197.2 L662.6 197.2 L663.45 197.2 L664.3 197.2 L665.15 197.2 L666 197.2 L666.85 197.2 L667.7 197.2 L668.55 197.2 L669.4 197.2 L670.25 197.2 L671.1 197.2 L671.95 197.2 L672.8 197.2 L673.65 197.2" fill="none" stroke="#008000" stroke-width="1.8" stroke-linejoin="round" clip-path="url(#cc)"/>
<path d="M467.1 182.38 L467.95 181.05 L468.8 179.65 L469.65 178.17 L470.5 176.61 L471.35 174.97 L472.2 173.25 L473.05 171.45 L473.9 169.57 L474.75 167.63 L475.6 165.61 L476.45 163.53 L477.3 161.39 L478.15 159.2 L479 156.96 L479.85 154.68 L480.7 152.37 L481.55 150.03 L482.4 147.68 L483.25 145.32 L484.1 142.97 L484.95 140.64 L485.8 138.33 L486.65 136.06 L487.5 133.84 L488.35 131.68 L489.2 129.59 L490.05 127.58 L490.9 125.67 L491.75 123.87 L492.6 122.19 L493.45 120.63 L494.3 119.21 L495.15 117.93 L496 116.8 L496.85 115.84 L497.7 115.04 L498.55 114.41 L499.4 113.96 L500.25 113.68 L501.1 113.59 L501.95 113.7 L502.8 114.03 L503.65 114.58 L504.5 115.35 L505.35 116.34 L506.2 117.52 L507.05 118.9 L507.9 120.46 L508.75 122.2 L509.6 124.09 L510.45 126.12 L511.3 128.29 L512.15 130.57 L513 132.95 L513.85 135.41 L514.7 137.93 L515.55 140.51 L516.4 143.12 L517.25 145.74 L518.1 148.38 L518.95 151 L519.8 153.6 L520.65 156.16 L521.5 158.68 L522.35 161.14 L523.2 163.53 L524.05 165.85 L524.9 168.09 L525.75 170.24 L526.6 172.3 L527.45 174.27 L528.3 176.13 L529.15 177.9 L530 179.56 L530.85 181.13 L531.7 182.6 L532.55 183.96 L533.4 185.24 L534.25 186.41 L535.1 187.5 L535.95 188.51 L536.8 189.43 L537.65 190.27 L538.5 191.03 L539.35 191.73 L540.2 192.36 L541.05 192.93 L541.9 193.44 L542.75 193.9 L543.6 194.32 L544.45 194.68 L545.3 195.01 L546.15 195.3 L547 195.55 L547.85 195.78 L548.7 195.98 L549.55 196.15 L550.4 196.3 L551.25 196.43 L552.1 196.54 L552.95 196.64 L553.8 196.73 L554.65 196.8 L555.5 196.86 L556.35 196.92 L557.2 196.96 L558.05 197 L558.9 197.04 L559.75 197.06 L560.6 197.09 L561.45 197.11 L562.3 197.12 L563.15 197.14 L564 197.15 L564.85 197.16 L565.7 197.17 L566.55 197.17 L567.4 197.18 L568.25 197.18 L569.1 197.18 L569.95 197.19 L570.8 197.19 L571.65 197.19 L572.5 197.19 L573.35 197.2 L574.2 197.2 L575.05 197.2 L575.9 197.2 L576.75 197.2 L577.6 197.2 L578.45 197.2 L579.3 197.2 L580.15 197.2 L581 197.2 L581.85 197.2 L582.7 197.2 L583.55 197.2 L584.4 197.2 L585.25 197.2 L586.1 197.2 L586.95 197.2 L587.8 197.2 L588.65 197.2 L589.5 197.2 L590.35 197.2 L591.2 197.2 L592.05 197.2 L592.9 197.2 L593.75 197.2 L594.6 197.2 L595.45 197.2 L596.3 197.2 L597.15 197.2 L598 197.2 L598.85 197.2 L599.7 197.2 L600.55 197.2 L601.4 197.2 L602.25 197.2 L603.1 197.2 L603.95 197.2 L604.8 197.2 L605.65 197.2 L606.5 197.2 L607.35 197.2 L608.2 197.2 L609.05 197.2 L609.9 197.2 L610.75 197.2 L611.6 197.2 L612.45 197.2 L613.3 197.2 L614.15 197.2 L615 197.2 L615.85 197.2 L616.7 197.2 L617.55 197.2 L618.4 197.2 L619.25 197.2 L620.1 197.2 L620.95 197.2 L621.8 197.2 L622.65 197.2 L623.5 197.2 L624.35 197.2 L625.2 197.2 L626.05 197.2 L626.9 197.2 L627.75 197.2 L628.6 197.2 L629.45 197.2 L630.3 197.2 L631.15 197.2 L632 197.2 L632.85 197.2 L633.7 197.2 L634.55 197.2 L635.4 197.2 L636.25 197.2 L637.1 197.2 L637.95 197.2 L638.8 197.2 L639.65 197.2 L640.5 197.2 L641.35 197.2 L642.2 197.2 L643.05 197.2 L643.9 197.2 L644.75 197.2 L645.6 197.2 L646.45 197.2 L647.3 197.2 L648.15 197.2 L649 197.2 L649.85 197.2 L650.7 197.2 L651.55 197.2 L652.4 197.2 L653.25 197.2 L654.1 197.2 L654.95 197.2 L655.8 197.2 L656.65 197.2 L657.5 197.2 L658.35 197.2 L659.2 197.2 L660.05 197.2 L660.9 197.2 L661.75 197.2 L662.6 197.2 L663.45 197.2 L664.3 197.2 L665.15 197.2 L666 197.2 L666.85 197.2 L667.7 197.2 L668.55 197.2 L669.4 197.2 L670.25 197.2 L671.1 197.2 L671.95 197.2 L672.8 197.2 L673.65 197.2" fill="none" stroke="#008000" stroke-width="1.9" stroke-dasharray="7.5 8.2" stroke-dashoffset="15.52" clip-path="url(#cc)"/>
<path d="M467.1 197.2 L467.95 190.14 L468.8 176.1 L469.65 161.77 L470.5 150.03 L471.35 136.95 L472.2 122.9 L473.05 109.96 L473.9 95.5 L474.75 81.26 L475.6 70.4 L476.45 60.15 L477.3 52.38 L478.15 47.31 L479 43.39 L479.85 39.59 L480.7 36.85 L481.55 34.15 L482.4 32.54 L483.25 31.18 L484.1 32.19 L484.95 32.68 L485.8 33.72 L486.65 34.96 L487.5 36.46 L488.35 41.41 L489.2 45.11 L490.05 44.19 L490.9 45.29 L491.75 48.79 L492.6 53.79 L493.45 57.44 L494.3 61.9 L495.15 65.86 L496 69.36 L496.85 72.91 L497.7 76.5 L498.55 80.35 L499.4 82.68 L500.25 86.62 L501.1 91.59 L501.95 96.15 L502.8 98.17 L503.65 101.9 L504.5 107.34 L505.35 111.98 L506.2 114.16 L507.05 116.17 L507.9 117.15 L508.75 121.64 L509.6 124.9 L510.45 126.69 L511.3 130.85 L512.15 135.37 L513 138.49 L513.85 141.97 L514.7 144.96 L515.55 145.82 L516.4 146.92 L517.25 148.83 L518.1 151.59 L518.95 153.55 L519.8 155.53 L520.65 157.7 L521.5 159.58 L522.35 160.18 L523.2 160.84 L524.05 162.31 L524.9 165.31 L525.75 166.9 L526.6 168.46 L527.45 169 L528.3 169.82 L529.15 171.54 L530 172.59 L530.85 173.28 L531.7 174.98 L532.55 177.28 L533.4 178.11 L534.25 178.78 L535.1 179.29 L535.95 180.06 L536.8 181.31 L537.65 181.73 L538.5 182.09 L539.35 182.81 L540.2 183.37 L541.05 184.47 L541.9 185.34 L542.75 185.57 L543.6 186.51 L544.45 186.66 L545.3 187.13 L546.15 187.46 L547 188.11 L547.85 188.7 L548.7 189 L549.55 189.31 L550.4 189.71 L551.25 190 L552.1 190.28 L552.95 191.07 L553.8 191.82 L554.65 192.34 L555.5 192.79 L556.35 193.38 L557.2 193.11 L558.05 193.16 L558.9 193.74 L559.75 193.57 L560.6 193.92 L561.45 193.92 L562.3 194.09 L563.15 194.04 L564 194.66 L564.85 194.72 L565.7 194.8 L566.55 195.4 L567.4 195.47 L568.25 195.33 L569.1 195.3 L569.95 195.49 L570.8 195.66 L571.65 195.89 L572.5 195.96 L573.35 195.83 L574.2 195.88 L575.05 195.97 L575.9 196.03 L576.75 196.21 L577.6 196.4 L578.45 196.57 L579.3 196.63 L580.15 196.53 L581 196.6 L581.85 196.65 L582.7 196.8 L583.55 196.72 L584.4 196.69 L585.25 196.61 L586.1 196.63 L586.95 196.71 L587.8 196.72 L588.65 196.73 L589.5 196.67 L590.35 196.76 L591.2 196.78 L592.05 196.88 L592.9 196.84 L593.75 196.84 L594.6 196.76 L595.45 196.8 L596.3 196.77 L597.15 196.79 L598 196.83 L598.85 196.83 L599.7 196.88 L600.55 196.92 L601.4 196.92 L602.25 196.85 L603.1 196.77 L603.95 196.8 L604.8 196.81 L605.65 196.77 L606.5 196.89 L607.35 196.89 L608.2 196.9 L609.05 196.96 L609.9 196.96 L610.75 196.91 L611.6 196.87 L612.45 196.92 L613.3 196.93 L614.15 196.9 L615 196.97 L615.85 196.94 L616.7 196.84 L617.55 196.88 L618.4 196.89 L619.25 196.99 L620.1 196.98 L620.95 196.88 L621.8 196.88 L622.65 196.93 L623.5 196.96 L624.35 197.03 L625.2 197.01 L626.05 196.96 L626.9 196.95 L627.75 196.87 L628.6 196.96 L629.45 197 L630.3 196.96 L631.15 196.94 L632 197.01 L632.85 197.07 L633.7 196.99 L634.55 196.94 L635.4 196.99 L636.25 196.91 L637.1 196.96 L637.95 196.97 L638.8 197 L639.65 196.97 L640.5 197.03 L641.35 196.99 L642.2 196.87 L643.05 196.86 L643.9 196.96 L644.75 197.04 L645.6 197.01 L646.45 196.99 L647.3 196.99 L648.15 197.02 L649 197.02 L649.85 196.99 L650.7 196.97 L651.55 197.05 L652.4 197.05 L653.25 196.99 L654.1 197.09 L654.95 197.05 L655.8 196.95 L656.65 196.91 L657.5 197 L658.35 197.02 L659.2 196.95 L660.05 196.93 L660.9 197.01 L661.75 196.98 L662.6 197.01 L663.45 197.15 L664.3 197.15 L665.15 197.07 L666 197.01 L666.85 196.99 L667.7 196.92 L668.55 196.97 L669.4 196.96 L670.25 196.92 L671.1 196.93 L671.95 197.01 L672.8 197.02 L673.65 197.02" fill="none" stroke="#0000ff" stroke-width="1.8" stroke-linejoin="round" clip-path="url(#cc)"/>
<g fill="#fff" stroke="#1010ff" stroke-width="0.5" clip-path="url(#cc)"><circle cx="467" cy="168.58" r="1.4"/><circle cx="467.6" cy="164.53" r="1.4"/><circle cx="468.2" cy="160.03" r="1.4"/><circle cx="468.8" cy="155.09" r="1.4"/><circle cx="469.4" cy="149.71" r="1.4"/><circle cx="470" cy="143.94" r="1.4"/><circle cx="470.6" cy="137.8" r="1.4"/><circle cx="471.2" cy="131.35" r="1.4"/><circle cx="471.8" cy="124.63" r="1.4"/><circle cx="472.4" cy="117.73" r="1.4"/><circle cx="473" cy="110.69" r="1.4"/><circle cx="473.6" cy="103.59" r="1.4"/><circle cx="474.2" cy="96.5" r="1.4"/><circle cx="474.8" cy="89.52" r="1.4"/><circle cx="475.4" cy="83.22" r="1.4"/><circle cx="476" cy="77.01" r="1.4"/><circle cx="476.6" cy="70.92" r="1.4"/><circle cx="477.2" cy="65.03" r="1.4"/><circle cx="477.8" cy="59.38" r="1.4"/><circle cx="478.4" cy="54.03" r="1.4"/><circle cx="479" cy="49.02" r="1.4"/><circle cx="479.6" cy="44.41" r="1.4"/><circle cx="480.2" cy="40.24" r="1.4"/><circle cx="480.8" cy="36.55" r="1.4"/><circle cx="481.4" cy="33.36" r="1.4"/><circle cx="482" cy="30.71" r="1.4"/><circle cx="482.6" cy="28.61" r="1.4"/><circle cx="483.2" cy="27.05" r="1.4"/><circle cx="483.8" cy="26" r="1.4"/><circle cx="484.4" cy="25.44" r="1.4"/><circle cx="485" cy="25.38" r="1.4"/><circle cx="485.6" cy="25.78" r="1.4"/><circle cx="486.2" cy="26.64" r="1.4"/><circle cx="486.8" cy="27.92" r="1.4"/><circle cx="487.4" cy="29.6" r="1.4"/><circle cx="488" cy="31.63" r="1.4"/><circle cx="488.6" cy="33.99" r="1.4"/><circle cx="489.2" cy="36.64" r="1.4"/><circle cx="489.8" cy="39.52" r="1.4"/><circle cx="490.4" cy="42.62" r="1.4"/><circle cx="491" cy="45.87" r="1.4"/><circle cx="491.6" cy="49.24" r="1.4"/><circle cx="492.2" cy="52.7" r="1.4"/><circle cx="492.8" cy="56.21" r="1.4"/><circle cx="493.4" cy="59.73" r="1.4"/><circle cx="494" cy="63.23" r="1.4"/><circle cx="494.6" cy="66.69" r="1.4"/><circle cx="495.2" cy="70.08" r="1.4"/><circle cx="495.8" cy="73.38" r="1.4"/><circle cx="496.4" cy="76.58" r="1.4"/><circle cx="497" cy="79.66" r="1.4"/><circle cx="497.6" cy="82.61" r="1.4"/><circle cx="498.2" cy="85.43" r="1.4"/><circle cx="498.8" cy="88.11" r="1.4"/><circle cx="499.4" cy="90.66" r="1.4"/><circle cx="500" cy="93.07" r="1.4"/><circle cx="500.6" cy="95.35" r="1.4"/><circle cx="501.2" cy="97.51" r="1.4"/><circle cx="501.8" cy="99.58" r="1.4"/><circle cx="502.4" cy="101.56" r="1.4"/><circle cx="503" cy="103.46" r="1.4"/><circle cx="503.6" cy="105.31" r="1.4"/><circle cx="504.2" cy="107.1" r="1.4"/><circle cx="504.8" cy="108.85" r="1.4"/><circle cx="505.4" cy="110.57" r="1.4"/><circle cx="506" cy="112.26" r="1.4"/><circle cx="506.6" cy="113.95" r="1.4"/><circle cx="507.2" cy="115.62" r="1.4"/><circle cx="507.8" cy="117.29" r="1.4"/><circle cx="508.4" cy="118.97" r="1.4"/><circle cx="509" cy="120.66" r="1.4"/><circle cx="509.6" cy="122.37" r="1.4"/><circle cx="510.2" cy="124.09" r="1.4"/><circle cx="510.8" cy="125.83" r="1.4"/><circle cx="511.4" cy="127.6" r="1.4"/><circle cx="512" cy="129.38" r="1.4"/><circle cx="512.6" cy="131.18" r="1.4"/><circle cx="513.2" cy="133.01" r="1.4"/><circle cx="513.8" cy="134.85" r="1.4"/><circle cx="514.4" cy="136.7" r="1.4"/><circle cx="515" cy="138.57" r="1.4"/><circle cx="515.6" cy="140.45" r="1.4"/><circle cx="516.2" cy="142.33" r="1.4"/><circle cx="516.8" cy="144.22" r="1.4"/><circle cx="517.4" cy="146.11" r="1.4"/><circle cx="518" cy="147.99" r="1.4"/><circle cx="518.6" cy="149.86" r="1.4"/><circle cx="519.2" cy="151.72" r="1.4"/><circle cx="519.8" cy="153.56" r="1.4"/><circle cx="520.4" cy="155.38" r="1.4"/><circle cx="521" cy="157.18" r="1.4"/><circle cx="521.6" cy="158.96" r="1.4"/><circle cx="522.2" cy="160.7" r="1.4"/><circle cx="522.8" cy="162.41" r="1.4"/><circle cx="523.4" cy="164.08" r="1.4"/><circle cx="524" cy="165.71" r="1.4"/><circle cx="524.6" cy="167.31" r="1.4"/><circle cx="525.2" cy="168.86" r="1.4"/><circle cx="525.8" cy="170.36" r="1.4"/><circle cx="526.4" cy="171.82" r="1.4"/><circle cx="527" cy="173.24" r="1.4"/><circle cx="527.6" cy="174.6" r="1.4"/><circle cx="528.2" cy="175.92" r="1.4"/><circle cx="528.8" cy="177.18" r="1.4"/><circle cx="529.4" cy="178.4" r="1.4"/><circle cx="530" cy="179.56" r="1.4"/><circle cx="530.6" cy="180.68" r="1.4"/><circle cx="531.2" cy="181.74" r="1.4"/><circle cx="531.8" cy="182.76" r="1.4"/><circle cx="532.4" cy="183.73" r="1.4"/><circle cx="533" cy="184.65" r="1.4"/><circle cx="533.6" cy="185.52" r="1.4"/><circle cx="534.2" cy="186.35" r="1.4"/><circle cx="534.8" cy="187.13" r="1.4"/><circle cx="535.4" cy="187.87" r="1.4"/><circle cx="536" cy="188.56" r="1.4"/><circle cx="536.6" cy="189.22" r="1.4"/><circle cx="537.2" cy="189.83" r="1.4"/><circle cx="537.8" cy="190.41" r="1.4"/><circle cx="538.4" cy="190.95" r="1.4"/><circle cx="539" cy="191.45" r="1.4"/><circle cx="539.6" cy="191.92" r="1.4"/><circle cx="540.2" cy="192.36" r="1.4"/><circle cx="540.8" cy="192.77" r="1.4"/><circle cx="541.4" cy="193.15" r="1.4"/><circle cx="542" cy="193.5" r="1.4"/><circle cx="542.6" cy="193.83" r="1.4"/><circle cx="543.2" cy="194.13" r="1.4"/><circle cx="543.8" cy="194.41" r="1.4"/><circle cx="544.4" cy="194.66" r="1.4"/><circle cx="545" cy="194.9" r="1.4"/><circle cx="545.6" cy="195.12" r="1.4"/><circle cx="546.2" cy="195.31" r="1.4"/><circle cx="546.8" cy="195.5" r="1.4"/><circle cx="547.4" cy="195.66" r="1.4"/><circle cx="548" cy="195.82" r="1.4"/><circle cx="548.6" cy="195.95" r="1.4"/><circle cx="549.2" cy="196.08" r="1.4"/><circle cx="549.8" cy="196.2" r="1.4"/><circle cx="550.4" cy="196.3" r="1.4"/><circle cx="551" cy="196.3" r="1.4"/><circle cx="551.6" cy="196.3" r="1.4"/><circle cx="552.2" cy="196.3" r="1.4"/><circle cx="552.8" cy="196.3" r="1.4"/><circle cx="553.4" cy="196.3" r="1.4"/><circle cx="554" cy="196.3" r="1.4"/><circle cx="554.6" cy="196.3" r="1.4"/><circle cx="555.2" cy="196.3" r="1.4"/><circle cx="555.8" cy="196.3" r="1.4"/><circle cx="556.4" cy="196.3" r="1.4"/><circle cx="557" cy="196.3" r="1.4"/><circle cx="557.6" cy="196.3" r="1.4"/><circle cx="558.2" cy="196.3" r="1.4"/><circle cx="558.8" cy="196.3" r="1.4"/><circle cx="559.4" cy="196.3" r="1.4"/><circle cx="560" cy="196.3" r="1.4"/><circle cx="560.6" cy="196.3" r="1.4"/><circle cx="561.2" cy="196.3" r="1.4"/><circle cx="561.8" cy="196.3" r="1.4"/><circle cx="562.4" cy="196.3" r="1.4"/><circle cx="563" cy="196.3" r="1.4"/><circle cx="563.6" cy="196.3" r="1.4"/><circle cx="564.2" cy="196.3" r="1.4"/><circle cx="564.8" cy="196.3" r="1.4"/><circle cx="565.4" cy="196.3" r="1.4"/><circle cx="566" cy="196.3" r="1.4"/><circle cx="566.6" cy="196.3" r="1.4"/><circle cx="567.2" cy="196.3" r="1.4"/><circle cx="567.8" cy="196.3" r="1.4"/><circle cx="568.4" cy="196.3" r="1.4"/><circle cx="569" cy="196.3" r="1.4"/><circle cx="569.6" cy="196.3" r="1.4"/><circle cx="570.2" cy="196.3" r="1.4"/><circle cx="570.8" cy="196.3" r="1.4"/><circle cx="571.4" cy="196.3" r="1.4"/><circle cx="572" cy="196.3" r="1.4"/><circle cx="572.6" cy="196.3" r="1.4"/><circle cx="573.2" cy="196.3" r="1.4"/><circle cx="573.8" cy="196.3" r="1.4"/><circle cx="574.4" cy="196.3" r="1.4"/><circle cx="575" cy="196.3" r="1.4"/><circle cx="575.6" cy="196.3" r="1.4"/><circle cx="576.2" cy="196.3" r="1.4"/><circle cx="576.8" cy="196.3" r="1.4"/><circle cx="577.4" cy="196.3" r="1.4"/><circle cx="578" cy="196.3" r="1.4"/><circle cx="578.6" cy="196.3" r="1.4"/><circle cx="579.2" cy="196.3" r="1.4"/><circle cx="579.8" cy="196.3" r="1.4"/><circle cx="580.4" cy="196.3" r="1.4"/><circle cx="581" cy="196.3" r="1.4"/><circle cx="581.6" cy="196.3" r="1.4"/><circle cx="582.2" cy="196.3" r="1.4"/><circle cx="582.8" cy="196.3" r="1.4"/><circle cx="583.4" cy="196.3" r="1.4"/><circle cx="584" cy="196.3" r="1.4"/><circle cx="584.6" cy="196.3" r="1.4"/><circle cx="585.2" cy="196.3" r="1.4"/><circle cx="585.8" cy="196.3" r="1.4"/><circle cx="586.4" cy="196.3" r="1.4"/><circle cx="587" cy="196.3" r="1.4"/><circle cx="587.6" cy="196.3" r="1.4"/><circle cx="588.2" cy="196.3" r="1.4"/><circle cx="588.8" cy="196.3" r="1.4"/><circle cx="589.4" cy="196.3" r="1.4"/><circle cx="590" cy="196.3" r="1.4"/><circle cx="590.6" cy="196.3" r="1.4"/><circle cx="591.2" cy="196.3" r="1.4"/><circle cx="591.8" cy="196.3" r="1.4"/><circle cx="592.4" cy="196.3" r="1.4"/><circle cx="593" cy="196.3" r="1.4"/><circle cx="593.6" cy="196.3" r="1.4"/><circle cx="594.2" cy="196.3" r="1.4"/><circle cx="594.8" cy="196.3" r="1.4"/><circle cx="595.4" cy="196.3" r="1.4"/><circle cx="596" cy="196.3" r="1.4"/><circle cx="596.6" cy="196.3" r="1.4"/><circle cx="597.2" cy="196.3" r="1.4"/><circle cx="597.8" cy="196.3" r="1.4"/><circle cx="598.4" cy="196.3" r="1.4"/><circle cx="599" cy="196.3" r="1.4"/><circle cx="599.6" cy="196.3" r="1.4"/><circle cx="600.2" cy="196.3" r="1.4"/><circle cx="600.8" cy="196.3" r="1.4"/><circle cx="601.4" cy="196.3" r="1.4"/><circle cx="602" cy="196.3" r="1.4"/><circle cx="602.6" cy="196.3" r="1.4"/><circle cx="603.2" cy="196.3" r="1.4"/><circle cx="603.8" cy="196.3" r="1.4"/><circle cx="604.4" cy="196.3" r="1.4"/><circle cx="605" cy="196.3" r="1.4"/><circle cx="605.6" cy="196.3" r="1.4"/><circle cx="606.2" cy="196.3" r="1.4"/><circle cx="606.8" cy="196.3" r="1.4"/><circle cx="607.4" cy="196.3" r="1.4"/><circle cx="608" cy="196.3" r="1.4"/><circle cx="608.6" cy="196.3" r="1.4"/><circle cx="609.2" cy="196.3" r="1.4"/><circle cx="609.8" cy="196.3" r="1.4"/><circle cx="610.4" cy="196.3" r="1.4"/><circle cx="611" cy="196.3" r="1.4"/><circle cx="611.6" cy="196.3" r="1.4"/><circle cx="612.2" cy="196.3" r="1.4"/><circle cx="612.8" cy="196.3" r="1.4"/><circle cx="613.4" cy="196.3" r="1.4"/><circle cx="614" cy="196.3" r="1.4"/><circle cx="614.6" cy="196.3" r="1.4"/><circle cx="615.2" cy="196.3" r="1.4"/><circle cx="615.8" cy="196.3" r="1.4"/><circle cx="616.4" cy="196.3" r="1.4"/><circle cx="617" cy="196.3" r="1.4"/><circle cx="617.6" cy="196.3" r="1.4"/><circle cx="618.2" cy="196.3" r="1.4"/><circle cx="618.8" cy="196.3" r="1.4"/><circle cx="619.4" cy="196.3" r="1.4"/><circle cx="620" cy="196.3" r="1.4"/><circle cx="620.6" cy="196.3" r="1.4"/><circle cx="621.2" cy="196.3" r="1.4"/><circle cx="621.8" cy="196.3" r="1.4"/><circle cx="622.4" cy="196.3" r="1.4"/><circle cx="623" cy="196.3" r="1.4"/><circle cx="623.6" cy="196.3" r="1.4"/><circle cx="624.2" cy="196.3" r="1.4"/><circle cx="624.8" cy="196.3" r="1.4"/><circle cx="625.4" cy="196.3" r="1.4"/><circle cx="626" cy="196.3" r="1.4"/><circle cx="626.6" cy="196.3" r="1.4"/><circle cx="627.2" cy="196.3" r="1.4"/><circle cx="627.8" cy="196.3" r="1.4"/><circle cx="628.4" cy="196.3" r="1.4"/><circle cx="629" cy="196.3" r="1.4"/><circle cx="629.6" cy="196.3" r="1.4"/><circle cx="630.2" cy="196.3" r="1.4"/><circle cx="630.8" cy="196.3" r="1.4"/><circle cx="631.4" cy="196.3" r="1.4"/><circle cx="632" cy="196.3" r="1.4"/><circle cx="632.6" cy="196.3" r="1.4"/><circle cx="633.2" cy="196.3" r="1.4"/><circle cx="633.8" cy="196.3" r="1.4"/><circle cx="634.4" cy="196.3" r="1.4"/><circle cx="635" cy="196.3" r="1.4"/><circle cx="635.6" cy="196.3" r="1.4"/><circle cx="636.2" cy="196.3" r="1.4"/><circle cx="636.8" cy="196.3" r="1.4"/><circle cx="637.4" cy="196.3" r="1.4"/><circle cx="638" cy="196.3" r="1.4"/><circle cx="638.6" cy="196.3" r="1.4"/><circle cx="639.2" cy="196.3" r="1.4"/><circle cx="639.8" cy="196.3" r="1.4"/><circle cx="640.4" cy="196.3" r="1.4"/><circle cx="641" cy="196.3" r="1.4"/><circle cx="641.6" cy="196.3" r="1.4"/><circle cx="642.2" cy="196.3" r="1.4"/><circle cx="642.8" cy="196.3" r="1.4"/><circle cx="643.4" cy="196.3" r="1.4"/><circle cx="644" cy="196.3" r="1.4"/><circle cx="644.6" cy="196.3" r="1.4"/><circle cx="645.2" cy="196.3" r="1.4"/><circle cx="645.8" cy="196.3" r="1.4"/><circle cx="646.4" cy="196.3" r="1.4"/><circle cx="647" cy="196.3" r="1.4"/><circle cx="647.6" cy="196.3" r="1.4"/><circle cx="648.2" cy="196.3" r="1.4"/><circle cx="648.8" cy="196.3" r="1.4"/><circle cx="649.4" cy="196.3" r="1.4"/><circle cx="650" cy="196.3" r="1.4"/><circle cx="650.6" cy="196.3" r="1.4"/><circle cx="651.2" cy="196.3" r="1.4"/><circle cx="651.8" cy="196.3" r="1.4"/><circle cx="652.4" cy="196.3" r="1.4"/><circle cx="653" cy="196.3" r="1.4"/><circle cx="653.6" cy="196.3" r="1.4"/><circle cx="654.2" cy="196.3" r="1.4"/><circle cx="654.8" cy="196.3" r="1.4"/><circle cx="655.4" cy="196.3" r="1.4"/><circle cx="656" cy="196.3" r="1.4"/><circle cx="656.6" cy="196.3" r="1.4"/><circle cx="657.2" cy="196.3" r="1.4"/><circle cx="657.8" cy="196.3" r="1.4"/><circle cx="658.4" cy="196.3" r="1.4"/><circle cx="659" cy="196.3" r="1.4"/><circle cx="659.6" cy="196.3" r="1.4"/><circle cx="660.2" cy="196.3" r="1.4"/><circle cx="660.8" cy="196.3" r="1.4"/><circle cx="661.4" cy="196.3" r="1.4"/><circle cx="662" cy="196.3" r="1.4"/><circle cx="662.6" cy="196.3" r="1.4"/><circle cx="663.2" cy="196.3" r="1.4"/><circle cx="663.8" cy="196.3" r="1.4"/><circle cx="664.4" cy="196.3" r="1.4"/><circle cx="665" cy="196.3" r="1.4"/><circle cx="665.6" cy="196.3" r="1.4"/><circle cx="666.2" cy="196.3" r="1.4"/><circle cx="666.8" cy="196.3" r="1.4"/><circle cx="667.4" cy="196.3" r="1.4"/><circle cx="668" cy="196.3" r="1.4"/><circle cx="668.6" cy="196.3" r="1.4"/><circle cx="669.2" cy="196.3" r="1.4"/><circle cx="669.8" cy="196.3" r="1.4"/><circle cx="670.4" cy="196.3" r="1.4"/><circle cx="671" cy="196.3" r="1.4"/><circle cx="671.6" cy="196.3" r="1.4"/><circle cx="672.2" cy="196.3" r="1.4"/><circle cx="672.8" cy="196.3" r="1.4"/><circle cx="673.4" cy="196.3" r="1.4"/><circle cx="674" cy="196.3" r="1.4"/><circle cx="674.6" cy="196.3" r="1.4"/></g>
<path d="M53.5 432.34 L54.4 432.23 L55.3 432.27 L56.2 432.26 L57.1 432.25 L58 432.24 L58.9 432.19 L59.8 432.22 L60.7 432.27 L61.6 432.38 L62.5 432.3 L63.4 432.23 L64.3 432.22 L65.2 432.19 L66.1 432.17 L67 432.2 L67.9 432.23 L68.8 432.23 L69.7 432.25 L70.6 432.21 L71.5 432.22 L72.4 432.28 L73.3 432.24 L74.2 432.17 L75.1 432.18 L76 432.23 L76.9 432.27 L77.8 432.18 L78.7 432.16 L79.6 432.19 L80.5 432.12 L81.4 432.13 L82.3 432.19 L83.2 432.19 L84.1 432.16 L85 432.12 L85.9 432 L86.8 432.11 L87.7 432.05 L88.6 432.01 L89.5 432.1 L90.4 432.13 L91.3 432.06 L92.2 432.02 L93.1 432.06 L94 432.1 L94.9 432.17 L95.8 432.14 L96.7 432.11 L97.6 432.12 L98.5 432.04 L99.4 432 L100.3 432.07 L101.2 432.07 L102.1 432.01 L103 431.97 L103.9 431.96 L104.8 431.87 L105.7 432 L106.6 432 L107.5 431.89 L108.4 431.93 L109.3 431.93 L110.2 431.95 L111.1 431.82 L112 431.86 L112.9 432 L113.8 431.99 L114.7 431.8 L115.6 431.85 L116.5 431.92 L117.4 431.92 L118.3 431.98 L119.2 431.87 L120.1 431.87 L121 431.86 L121.9 431.96 L122.8 431.9 L123.7 431.79 L124.6 431.75 L125.5 431.94 L126.4 431.95 L127.3 431.92 L128.2 431.91 L129.1 431.81 L130 431.68 L130.9 431.62 L131.8 431.65 L132.7 431.73 L133.6 431.53 L134.5 431.49 L135.4 431.51 L136.3 431.54 L137.2 431.47 L138.1 431.21 L139 431.07 L139.9 431.21 L140.8 431.33 L141.7 431.21 L142.6 431.01 L143.5 430.84 L144.4 430.78 L145.3 430.69 L146.2 430.64 L147.1 430.38 L148 430.31 L148.9 430.24 L149.8 430.21 L150.7 430.22 L151.6 430.49 L152.5 430.32 L153.4 429.87 L154.3 429.07 L155.2 429.03 L156.1 429.05 L157 428.92 L157.9 428.46 L158.8 428.89 L159.7 428.8 L160.6 428.09 L161.5 427.86 L162.4 427.87 L163.3 428.01 L164.2 428.21 L165.1 428.26 L166 427.72 L166.9 427.55 L167.8 427.43 L168.7 427.52 L169.6 427.25 L170.5 426.89 L171.4 426.13 L172.3 425.84 L173.2 425.72 L174.1 426 L175 425.65 L175.9 425.04 L176.8 424.75 L177.7 424.64 L178.6 424.1 L179.5 423.78 L180.4 424.11 L181.3 424.3 L182.2 423.34 L183.1 422.58 L184 421.99 L184.9 421.7 L185.8 421.93 L186.7 421.76 L187.6 421.15 L188.5 420.72 L189.4 420.26 L190.3 419.61 L191.2 418.71 L192.1 418.49 L193 418.24 L193.9 417.54 L194.8 417 L195.7 416.45 L196.6 416.18 L197.5 415.92 L198.4 414.83 L199.3 413.62 L200.2 412.9 L201.1 412.2 L202 411.25 L202.9 409.41 L203.8 409.06 L204.7 408.1 L205.6 407.3 L206.5 406.67 L207.4 405.68 L208.3 404.26 L209.2 402.69 L210.1 401.46 L211 399.24 L211.9 397.47 L212.8 395.93 L213.7 393.94 L214.6 392.82 L215.5 390.66 L216.4 388.32 L217.3 384.78 L218.2 381.7 L219.1 379.42 L220 376.95 L220.9 373.71 L221.8 370.86 L222.7 367.81 L223.6 364.97 L224.5 360.82 L225.4 357.58 L226.3 353.19 L227.2 348.98 L228.1 345.2 L229 341.35 L229.9 338.34 L230.8 334.88 L231.7 330.3 L232.6 326.52 L233.5 323.07 L234.4 318.33 L235.3 313.82 L236.2 309.09 L237.1 304.48 L238 301.21 L238.9 296.17 L239.8 293.05 L240.7 289.09 L241.6 285.24 L242.5 280.72 L243.4 277.21 L244.3 275.46 L245.2 273.12 L246.1 271.31 L247 269.92 L247.9 268.76 L248.8 268.15 L249.7 267.97 L250.6 268.32 L251.5 268.11 L252.4 269.94 L253.3 271.46 L254.2 274.78 L255.1 276.39 L256 276.1 L256.9 279.31 L257.8 282.78 L258.7 287.08 L259.6 289.88" fill="none" stroke="#ff0000" stroke-width="1.8" stroke-linejoin="round" clip-path="url(#cd)"/>
<path d="M53.5 432.27 L54.4 432.3 L55.3 432.35 L56.2 432.31 L57.1 432.22 L58 432.24 L58.9 432.24 L59.8 432.24 L60.7 432.19 L61.6 432.24 L62.5 432.28 L63.4 432.31 L64.3 432.28 L65.2 432.23 L66.1 432.2 L67 432.27 L67.9 432.18 L68.8 432.22 L69.7 432.19 L70.6 432.14 L71.5 432.13 L72.4 432.14 L73.3 432.18 L74.2 432.19 L75.1 432.2 L76 432.08 L76.9 432.1 L77.8 432.1 L78.7 432.12 L79.6 432.01 L80.5 432.06 L81.4 432.08 L82.3 432.03 L83.2 432.11 L84.1 432.11 L85 432.13 L85.9 432.1 L86.8 431.97 L87.7 431.93 L88.6 431.97 L89.5 432.03 L90.4 432 L91.3 431.87 L92.2 431.81 L93.1 431.77 L94 431.75 L94.9 431.74 L95.8 431.78 L96.7 431.86 L97.6 431.66 L98.5 431.57 L99.4 431.55 L100.3 431.4 L101.2 431.37 L102.1 431.41 L103 431.38 L103.9 431.22 L104.8 431.34 L105.7 431.22 L106.6 431.19 L107.5 431.26 L108.4 431.24 L109.3 431.21 L110.2 431.06 L111.1 430.97 L112 430.91 L112.9 430.8 L113.8 430.92 L114.7 430.67 L115.6 430.62 L116.5 430.95 L117.4 430.68 L118.3 430.51 L119.2 430.78 L120.1 430.61 L121 430.56 L121.9 430.29 L122.8 430.12 L123.7 429.8 L124.6 429.63 L125.5 429.75 L126.4 429.94 L127.3 430.18 L128.2 430.23 L129.1 429.63 L130 429.57 L130.9 429.25 L131.8 428.98 L132.7 428.56 L133.6 428.37 L134.5 428.36 L135.4 428.27 L136.3 428.32 L137.2 428.25 L138.1 428.44 L139 428.18 L139.9 428.01 L140.8 428.05 L141.7 427.77 L142.6 427.4 L143.5 427.17 L144.4 427.1 L145.3 427.22 L146.2 427.04 L147.1 426.77 L148 426.55 L148.9 426.14 L149.8 425.95 L150.7 425.59 L151.6 425.88 L152.5 425.61 L153.4 425.37 L154.3 425.25 L155.2 424.9 L156.1 424.72 L157 424.81 L157.9 424.32 L158.8 423.8 L159.7 423.65 L160.6 423.23 L161.5 423.6 L162.4 423.15 L163.3 423 L164.2 423.45 L165.1 423.18 L166 422.31 L166.9 422.04 L167.8 422.05 L168.7 421.83 L169.6 421.08 L170.5 420.87 L171.4 420.81 L172.3 420.27 L173.2 419.91 L174.1 419.31 L175 418.31 L175.9 417.57 L176.8 416.82 L177.7 417.2 L178.6 417.32 L179.5 416.44 L180.4 416.49 L181.3 416.05 L182.2 415.08 L183.1 414.41 L184 413.76 L184.9 412.89 L185.8 412.41 L186.7 412.04 L187.6 411.7 L188.5 410.96 L189.4 409.83 L190.3 409.26 L191.2 408.05 L192.1 407.26 L193 406.59 L193.9 405.51 L194.8 404.45 L195.7 403.45 L196.6 402.03 L197.5 400.79 L198.4 400 L199.3 399.24 L200.2 397.97 L201.1 397.18 L202 394.72 L202.9 391.68 L203.8 391.09 L204.7 390.53 L205.6 388.05 L206.5 385.48 L207.4 383.6 L208.3 382.79 L209.2 381.15 L210.1 379.08 L211 377.32 L211.9 376 L212.8 373.67 L213.7 370.92 L214.6 369.77 L215.5 367.87 L216.4 365.73 L217.3 363.87 L218.2 360.51 L219.1 356.72 L220 356.21 L220.9 353.91 L221.8 350.1 L222.7 346.91 L223.6 344.08 L224.5 340.66 L225.4 338.53 L226.3 335.88 L227.2 333.04 L228.1 330.24 L229 328.33 L229.9 327.41 L230.8 325.48 L231.7 322.43 L232.6 319.25 L233.5 316.46 L234.4 315.38 L235.3 313.56 L236.2 310.18 L237.1 309.09 L238 306.2 L238.9 305.65 L239.8 305.06 L240.7 302.68 L241.6 301.54 L242.5 302.21 L243.4 302.2 L244.3 301.18 L245.2 300.94 L246.1 298.92 L247 299.46 L247.9 299.38 L248.8 300.09 L249.7 301.54 L250.6 303.21 L251.5 306.14 L252.4 308.42 L253.3 309.16 L254.2 310 L255.1 311.12 L256 313.39 L256.9 316.08 L257.8 318.28 L258.7 320.46 L259.6 322.72" fill="none" stroke="#0000ff" stroke-width="1.8" stroke-linejoin="round" clip-path="url(#cd)"/>
<path d="M260.4 432.5 L261.3 432.5 L262.2 432.5 L263.1 432.5 L264 432.5 L264.9 432.5 L265.8 432.5 L266.7 432.5 L267.6 432.5 L268.5 432.5 L269.4 432.5 L270.3 432.5 L271.2 432.5 L272.1 432.5 L273 432.5 L273.9 432.5 L274.8 432.5 L275.7 432.5 L276.6 432.5 L277.5 432.5 L278.4 432.5 L279.3 432.5 L280.2 432.5 L281.1 432.5 L282 432.5 L282.9 432.5 L283.8 432.5 L284.7 432.5 L285.6 432.5 L286.5 432.5 L287.4 432.5 L288.3 432.5 L289.2 432.5 L290.1 432.5 L291 432.5 L291.9 432.5 L292.8 432.5 L293.7 432.5 L294.6 432.5 L295.5 432.5 L296.4 432.5 L297.3 432.5 L298.2 432.5 L299.1 432.5 L300 432.5 L300.9 432.5 L301.8 432.5 L302.7 432.5 L303.6 432.5 L304.5 432.5 L305.4 432.5 L306.3 432.5 L307.2 432.5 L308.1 432.5 L309 432.5 L309.9 432.5 L310.8 432.5 L311.7 432.5 L312.6 432.5 L313.5 432.5 L314.4 432.5 L315.3 432.5 L316.2 432.5 L317.1 432.5 L318 432.5 L318.9 432.5 L319.8 432.5 L320.7 432.5 L321.6 432.5 L322.5 432.5 L323.4 432.5 L324.3 432.5 L325.2 432.5 L326.1 432.5 L327 432.5 L327.9 432.5 L328.8 432.5 L329.7 432.5 L330.6 432.5 L331.5 432.5 L332.4 432.5 L333.3 432.5 L334.2 432.5 L335.1 432.5 L336 432.5 L336.9 432.5 L337.8 432.5 L338.7 432.5 L339.6 432.5 L340.5 432.5 L341.4 432.5 L342.3 432.5 L343.2 432.5 L344.1 432.5 L345 432.5 L345.9 432.5 L346.8 432.5 L347.7 432.5 L348.6 432.5 L349.5 432.5 L350.4 432.5 L351.3 432.5 L352.2 432.5 L353.1 432.5 L354 432.5 L354.9 432.5 L355.8 432.5 L356.7 432.5 L357.6 432.5 L358.5 432.5 L359.4 432.5 L360.3 432.5 L361.2 432.5 L362.1 432.5 L363 432.5 L363.9 432.5 L364.8 432.5 L365.7 432.5 L366.6 432.5 L367.5 432.5 L368.4 432.5 L369.3 432.5 L370.2 432.5 L371.1 432.5 L372 432.5 L372.9 432.5 L373.8 432.5 L374.7 432.5 L375.6 432.5 L376.5 432.5 L377.4 432.5 L378.3 432.5 L379.2 432.49 L380.1 432.49 L381 432.49 L381.9 432.49 L382.8 432.49 L383.7 432.48 L384.6 432.48 L385.5 432.47 L386.4 432.47 L387.3 432.46 L388.2 432.45 L389.1 432.44 L390 432.43 L390.9 432.41 L391.8 432.39 L392.7 432.37 L393.6 432.34 L394.5 432.31 L395.4 432.27 L396.3 432.23 L397.2 432.18 L398.1 432.11 L399 432.04 L399.9 431.95 L400.8 431.85 L401.7 431.73 L402.6 431.6 L403.5 431.44 L404.4 431.26 L405.3 431.05 L406.2 430.8 L407.1 430.53 L408 430.22 L408.9 429.86 L409.8 429.45 L410.7 429 L411.6 428.48 L412.5 427.9 L413.4 427.25 L414.3 426.53 L415.2 425.73 L416.1 424.83 L417 423.85 L417.9 422.76 L418.8 421.56 L419.7 420.25 L420.6 418.82 L421.5 417.26 L422.4 415.58 L423.3 413.75 L424.2 411.78 L425.1 409.67 L426 407.41 L426.9 405 L427.8 402.44 L428.7 399.73 L429.6 396.87 L430.5 393.87 L431.4 390.72 L432.3 387.44 L433.2 384.02 L434.1 380.49 L435 376.86 L435.9 373.12 L436.8 369.31 L437.7 365.42 L438.6 361.5 L439.5 357.54 L440.4 353.57 L441.3 349.61 L442.2 345.69 L443.1 341.83 L444 338.05 L444.9 334.37 L445.8 330.82 L446.7 327.42 L447.6 324.21 L448.5 321.19 L449.4 318.39 L450.3 315.83 L451.2 313.54 L452.1 311.52 L453 309.8 L453.9 308.39 L454.8 307.3 L455.7 306.53 L456.6 306.1 L457.5 306.01 L458.4 306.26 L459.3 306.85 L460.2 307.79 L461.1 309.05 L462 310.64 L462.9 312.53 L463.8 314.72 L464.7 317.18 L465.6 319.9 L466.5 322.86" fill="none" stroke="#008000" stroke-width="1.8" stroke-linejoin="round" clip-path="url(#ce)"/>
<path d="M260.4 432.5 L261.3 432.5 L262.2 432.5 L263.1 432.5 L264 432.5 L264.9 432.5 L265.8 432.5 L266.7 432.5 L267.6 432.5 L268.5 432.5 L269.4 432.5 L270.3 432.5 L271.2 432.5 L272.1 432.5 L273 432.5 L273.9 432.5 L274.8 432.5 L275.7 432.5 L276.6 432.5 L277.5 432.5 L278.4 432.5 L279.3 432.5 L280.2 432.5 L281.1 432.5 L282 432.5 L282.9 432.5 L283.8 432.5 L284.7 432.5 L285.6 432.5 L286.5 432.5 L287.4 432.5 L288.3 432.5 L289.2 432.5 L290.1 432.5 L291 432.5 L291.9 432.5 L292.8 432.5 L293.7 432.5 L294.6 432.5 L295.5 432.5 L296.4 432.5 L297.3 432.5 L298.2 432.49 L299.1 432.49 L300 432.49 L300.9 432.49 L301.8 432.49 L302.7 432.49 L303.6 432.49 L304.5 432.49 L305.4 432.49 L306.3 432.49 L307.2 432.49 L308.1 432.48 L309 432.48 L309.9 432.48 L310.8 432.48 L311.7 432.48 L312.6 432.47 L313.5 432.47 L314.4 432.47 L315.3 432.46 L316.2 432.46 L317.1 432.46 L318 432.45 L318.9 432.45 L319.8 432.44 L320.7 432.44 L321.6 432.43 L322.5 432.43 L323.4 432.42 L324.3 432.41 L325.2 432.4 L326.1 432.4 L327 432.39 L327.9 432.38 L328.8 432.36 L329.7 432.35 L330.6 432.34 L331.5 432.33 L332.4 432.31 L333.3 432.3 L334.2 432.28 L335.1 432.26 L336 432.24 L336.9 432.22 L337.8 432.19 L338.7 432.17 L339.6 432.14 L340.5 432.12 L341.4 432.09 L342.3 432.05 L343.2 432.02 L344.1 431.98 L345 431.94 L345.9 431.9 L346.8 431.86 L347.7 431.81 L348.6 431.76 L349.5 431.7 L350.4 431.65 L351.3 431.59 L352.2 431.52 L353.1 431.45 L354 431.38 L354.9 431.3 L355.8 431.22 L356.7 431.14 L357.6 431.05 L358.5 430.95 L359.4 430.85 L360.3 430.75 L361.2 430.64 L362.1 430.52 L363 430.39 L363.9 430.27 L364.8 430.13 L365.7 429.99 L366.6 429.84 L367.5 429.68 L368.4 429.52 L369.3 429.35 L370.2 429.17 L371.1 428.98 L372 428.79 L372.9 428.58 L373.8 428.37 L374.7 428.15 L375.6 427.92 L376.5 427.68 L377.4 427.44 L378.3 427.18 L379.2 426.92 L380.1 426.64 L381 426.36 L381.9 426.06 L382.8 425.76 L383.7 425.44 L384.6 425.12 L385.5 424.78 L386.4 424.44 L387.3 424.09 L388.2 423.72 L389.1 423.35 L390 422.97 L390.9 422.57 L391.8 422.17 L392.7 421.76 L393.6 421.34 L394.5 420.91 L395.4 420.47 L396.3 420.02 L397.2 419.57 L398.1 419.1 L399 418.63 L399.9 418.15 L400.8 417.66 L401.7 417.17 L402.6 416.67 L403.5 416.17 L404.4 415.66 L405.3 415.14 L406.2 414.62 L407.1 414.1 L408 413.58 L408.9 413.05 L409.8 412.52 L410.7 411.99 L411.6 411.45 L412.5 410.92 L413.4 410.39 L414.3 409.86 L415.2 409.33 L416.1 408.81 L417 408.29 L417.9 407.77 L418.8 407.26 L419.7 406.76 L420.6 406.26 L421.5 405.77 L422.4 405.29 L423.3 404.81 L424.2 404.35 L425.1 403.9 L426 403.45 L426.9 403.02 L427.8 402.61 L428.7 402.2 L429.6 401.82 L430.5 401.44 L431.4 401.08 L432.3 400.74 L433.2 400.42 L434.1 400.11 L435 399.82 L435.9 399.55 L436.8 399.3 L437.7 399.07 L438.6 398.86 L439.5 398.66 L440.4 398.49 L441.3 398.34 L442.2 398.21 L443.1 398.11 L444 398.02 L444.9 397.96 L445.8 397.92 L446.7 397.9 L447.6 397.9 L448.5 397.91 L449.4 397.93 L450.3 397.96 L451.2 398 L452.1 398.05 L453 398.11 L453.9 398.17 L454.8 398.25 L455.7 398.33 L456.6 398.42 L457.5 398.52 L458.4 398.64 L459.3 398.75 L460.2 398.88 L461.1 399.02 L462 399.16 L462.9 399.32 L463.8 399.48 L464.7 399.65 L465.6 399.82 L466.5 400.01" fill="none" stroke="#008000" stroke-width="1.9" stroke-dasharray="7 7.9" stroke-dashoffset="2.61" clip-path="url(#ce)"/>
<path d="M260.4 432.34 L261.3 432.23 L262.2 432.27 L263.1 432.26 L264 432.25 L264.9 432.24 L265.8 432.19 L266.7 432.22 L267.6 432.27 L268.5 432.38 L269.4 432.3 L270.3 432.23 L271.2 432.22 L272.1 432.19 L273 432.17 L273.9 432.2 L274.8 432.23 L275.7 432.23 L276.6 432.25 L277.5 432.21 L278.4 432.22 L279.3 432.28 L280.2 432.24 L281.1 432.17 L282 432.18 L282.9 432.23 L283.8 432.27 L284.7 432.18 L285.6 432.16 L286.5 432.19 L287.4 432.12 L288.3 432.13 L289.2 432.19 L290.1 432.19 L291 432.16 L291.9 432.12 L292.8 432 L293.7 432.11 L294.6 432.05 L295.5 432.01 L296.4 432.1 L297.3 432.13 L298.2 432.06 L299.1 432.02 L300 432.06 L300.9 432.1 L301.8 432.17 L302.7 432.14 L303.6 432.11 L304.5 432.12 L305.4 432.04 L306.3 432 L307.2 432.07 L308.1 432.07 L309 432.01 L309.9 431.97 L310.8 431.96 L311.7 431.87 L312.6 432 L313.5 432 L314.4 431.89 L315.3 431.93 L316.2 431.93 L317.1 431.95 L318 431.82 L318.9 431.86 L319.8 432 L320.7 431.99 L321.6 431.8 L322.5 431.85 L323.4 431.92 L324.3 431.92 L325.2 431.98 L326.1 431.87 L327 431.87 L327.9 431.86 L328.8 431.96 L329.7 431.9 L330.6 431.79 L331.5 431.75 L332.4 431.94 L333.3 431.95 L334.2 431.92 L335.1 431.91 L336 431.81 L336.9 431.68 L337.8 431.62 L338.7 431.65 L339.6 431.73 L340.5 431.53 L341.4 431.49 L342.3 431.51 L343.2 431.54 L344.1 431.47 L345 431.21 L345.9 431.07 L346.8 431.21 L347.7 431.33 L348.6 431.21 L349.5 431.01 L350.4 430.84 L351.3 430.78 L352.2 430.69 L353.1 430.64 L354 430.38 L354.9 430.31 L355.8 430.24 L356.7 430.21 L357.6 430.22 L358.5 430.49 L359.4 430.32 L360.3 429.87 L361.2 429.07 L362.1 429.03 L363 429.05 L363.9 428.92 L364.8 428.46 L365.7 428.89 L366.6 428.8 L367.5 428.09 L368.4 427.86 L369.3 427.87 L370.2 428.01 L371.1 428.21 L372 428.26 L372.9 427.72 L373.8 427.55 L374.7 427.43 L375.6 427.52 L376.5 427.25 L377.4 426.89 L378.3 426.13 L379.2 425.84 L380.1 425.72 L381 426 L381.9 425.65 L382.8 425.04 L383.7 424.75 L384.6 424.64 L385.5 424.1 L386.4 423.78 L387.3 424.11 L388.2 424.3 L389.1 423.34 L390 422.58 L390.9 421.99 L391.8 421.7 L392.7 421.93 L393.6 421.76 L394.5 421.15 L395.4 420.72 L396.3 420.26 L397.2 419.61 L398.1 418.71 L399 418.49 L399.9 418.24 L400.8 417.54 L401.7 417 L402.6 416.45 L403.5 416.18 L404.4 415.92 L405.3 414.83 L406.2 413.62 L407.1 412.9 L408 412.2 L408.9 411.25 L409.8 409.41 L410.7 409.06 L411.6 408.1 L412.5 407.3 L413.4 406.67 L414.3 405.68 L415.2 404.26 L416.1 402.69 L417 401.46 L417.9 399.24 L418.8 397.47 L419.7 395.93 L420.6 393.94 L421.5 392.82 L422.4 390.66 L423.3 388.32 L424.2 384.78 L425.1 381.7 L426 379.42 L426.9 376.95 L427.8 373.71 L428.7 370.86 L429.6 367.81 L430.5 364.97 L431.4 360.82 L432.3 357.58 L433.2 353.19 L434.1 348.98 L435 345.2 L435.9 341.35 L436.8 338.34 L437.7 334.88 L438.6 330.3 L439.5 326.52 L440.4 323.07 L441.3 318.33 L442.2 313.82 L443.1 309.09 L444 304.48 L444.9 301.21 L445.8 296.17 L446.7 293.05 L447.6 289.09 L448.5 285.24 L449.4 280.72 L450.3 277.21 L451.2 275.46 L452.1 273.12 L453 271.31 L453.9 269.92 L454.8 268.76 L455.7 268.15 L456.6 267.97 L457.5 268.32 L458.4 268.11 L459.3 269.94 L460.2 271.46 L461.1 274.78 L462 276.39 L462.9 276.1 L463.8 279.31 L464.7 282.78 L465.6 287.08 L466.5 289.88" fill="none" stroke="#ff0000" stroke-width="1.8" stroke-linejoin="round" clip-path="url(#ce)"/>
<g fill="#fff" stroke="#ff0000" stroke-width="0.75" clip-path="url(#ce)"><circle cx="261.6" cy="431.7" r="2.15"/><circle cx="264.71" cy="431.7" r="2.15"/><circle cx="267.82" cy="431.7" r="2.15"/><circle cx="270.93" cy="431.7" r="2.15"/><circle cx="274.04" cy="431.7" r="2.15"/><circle cx="277.15" cy="431.7" r="2.15"/><circle cx="280.26" cy="431.7" r="2.15"/><circle cx="283.37" cy="431.7" r="2.15"/><circle cx="286.48" cy="431.7" r="2.15"/><circle cx="289.59" cy="431.7" r="2.15"/><circle cx="292.7" cy="431.7" r="2.15"/><circle cx="295.81" cy="431.7" r="2.15"/><circle cx="298.92" cy="431.7" r="2.15"/><circle cx="302.03" cy="431.7" r="2.15"/><circle cx="305.14" cy="431.7" r="2.15"/><circle cx="308.25" cy="431.7" r="2.15"/><circle cx="311.36" cy="431.7" r="2.15"/><circle cx="314.47" cy="431.7" r="2.15"/><circle cx="317.58" cy="431.7" r="2.15"/><circle cx="320.69" cy="431.7" r="2.15"/><circle cx="323.8" cy="431.7" r="2.15"/><circle cx="326.91" cy="431.7" r="2.15"/><circle cx="330.02" cy="431.7" r="2.15"/><circle cx="333.13" cy="431.7" r="2.15"/><circle cx="336.24" cy="431.7" r="2.15"/><circle cx="339.35" cy="431.7" r="2.15"/><circle cx="342.46" cy="431.7" r="2.15"/><circle cx="345.57" cy="431.7" r="2.15"/><circle cx="348.68" cy="431.7" r="2.15"/><circle cx="351.79" cy="431.55" r="2.15"/><circle cx="354.9" cy="431.3" r="2.15"/><circle cx="358.01" cy="431.01" r="2.15"/><circle cx="361.12" cy="430.65" r="2.15"/><circle cx="364.23" cy="430.22" r="2.15"/><circle cx="367.34" cy="429.71" r="2.15"/><circle cx="370.45" cy="429.12" r="2.15"/><circle cx="373.56" cy="428.43" r="2.15"/><circle cx="376.67" cy="427.64" r="2.15"/><circle cx="379.78" cy="426.73" r="2.15"/><circle cx="382.89" cy="425.71" r="2.15"/><circle cx="386" cy="424.57" r="2.15"/><circle cx="389.11" cy="423.29" r="2.15"/><circle cx="392.22" cy="421.86" r="2.15"/><circle cx="395.33" cy="420.28" r="2.15"/><circle cx="398.44" cy="418.51" r="2.15"/><circle cx="401.55" cy="416.51" r="2.15"/><circle cx="404.66" cy="414.21" r="2.15"/><circle cx="407.77" cy="411.51" r="2.15"/><circle cx="410.88" cy="408.28" r="2.15"/><circle cx="413.99" cy="404.33" r="2.15"/><circle cx="417.1" cy="399.46" r="2.15"/><circle cx="420.21" cy="393.43" r="2.15"/><circle cx="423.32" cy="386.01" r="2.15"/><circle cx="426.43" cy="377.03" r="2.15"/><circle cx="429.54" cy="366.41" r="2.15"/><circle cx="432.65" cy="354.24" r="2.15"/><circle cx="435.76" cy="340.8" r="2.15"/><circle cx="438.87" cy="326.61" r="2.15"/><circle cx="441.98" cy="312.39" r="2.15"/><circle cx="445.09" cy="299.06" r="2.15"/><circle cx="448.2" cy="287.58" r="2.15"/><circle cx="451.31" cy="278.78" r="2.15"/><circle cx="454.42" cy="273.43" r="2.15"/><circle cx="457.53" cy="272.04" r="2.15"/><circle cx="460.64" cy="274.81" r="2.15"/><circle cx="463.75" cy="281.56" r="2.15"/><circle cx="466.86" cy="291.69" r="2.15"/><circle cx="469.97" cy="304.35" r="2.15"/></g>
<path d="M467 432.5 L467.9 432.5 L468.8 432.5 L469.7 432.5 L470.6 432.5 L471.5 432.5 L472.4 432.5 L473.3 432.5 L474.2 432.5 L475.1 432.5 L476 432.5 L476.9 432.5 L477.8 432.5 L478.7 432.5 L479.6 432.5 L480.5 432.5 L481.4 432.5 L482.3 432.5 L483.2 432.5 L484.1 432.5 L485 432.5 L485.9 432.5 L486.8 432.5 L487.7 432.5 L488.6 432.5 L489.5 432.5 L490.4 432.5 L491.3 432.5 L492.2 432.5 L493.1 432.5 L494 432.5 L494.9 432.5 L495.8 432.5 L496.7 432.5 L497.6 432.5 L498.5 432.5 L499.4 432.5 L500.3 432.5 L501.2 432.5 L502.1 432.5 L503 432.5 L503.9 432.5 L504.8 432.5 L505.7 432.5 L506.6 432.5 L507.5 432.5 L508.4 432.5 L509.3 432.5 L510.2 432.5 L511.1 432.5 L512 432.5 L512.9 432.5 L513.8 432.5 L514.7 432.5 L515.6 432.5 L516.5 432.5 L517.4 432.5 L518.3 432.5 L519.2 432.5 L520.1 432.5 L521 432.5 L521.9 432.5 L522.8 432.5 L523.7 432.5 L524.6 432.5 L525.5 432.5 L526.4 432.5 L527.3 432.5 L528.2 432.5 L529.1 432.5 L530 432.5 L530.9 432.5 L531.8 432.5 L532.7 432.5 L533.6 432.5 L534.5 432.5 L535.4 432.5 L536.3 432.5 L537.2 432.5 L538.1 432.5 L539 432.5 L539.9 432.5 L540.8 432.5 L541.7 432.5 L542.6 432.5 L543.5 432.5 L544.4 432.5 L545.3 432.5 L546.2 432.5 L547.1 432.5 L548 432.5 L548.9 432.5 L549.8 432.5 L550.7 432.5 L551.6 432.5 L552.5 432.5 L553.4 432.5 L554.3 432.5 L555.2 432.5 L556.1 432.5 L557 432.5 L557.9 432.5 L558.8 432.5 L559.7 432.5 L560.6 432.5 L561.5 432.5 L562.4 432.5 L563.3 432.5 L564.2 432.5 L565.1 432.5 L566 432.5 L566.9 432.5 L567.8 432.5 L568.7 432.5 L569.6 432.49 L570.5 432.49 L571.4 432.49 L572.3 432.49 L573.2 432.49 L574.1 432.49 L575 432.48 L575.9 432.48 L576.8 432.48 L577.7 432.47 L578.6 432.47 L579.5 432.46 L580.4 432.45 L581.3 432.44 L582.2 432.43 L583.1 432.42 L584 432.41 L584.9 432.39 L585.8 432.37 L586.7 432.35 L587.6 432.32 L588.5 432.29 L589.4 432.26 L590.3 432.22 L591.2 432.18 L592.1 432.13 L593 432.07 L593.9 432 L594.8 431.93 L595.7 431.84 L596.6 431.74 L597.5 431.63 L598.4 431.51 L599.3 431.37 L600.2 431.21 L601.1 431.04 L602 430.84 L602.9 430.63 L603.8 430.38 L604.7 430.11 L605.6 429.82 L606.5 429.49 L607.4 429.12 L608.3 428.72 L609.2 428.28 L610.1 427.8 L611 427.27 L611.9 426.7 L612.8 426.07 L613.7 425.39 L614.6 424.65 L615.5 423.86 L616.4 423 L617.3 422.08 L618.2 421.08 L619.1 420.02 L620 418.89 L620.9 417.68 L621.8 416.39 L622.7 415.03 L623.6 413.58 L624.5 412.06 L625.4 410.46 L626.3 408.77 L627.2 407.01 L628.1 405.17 L629 403.25 L629.9 401.26 L630.8 399.19 L631.7 397.06 L632.6 394.86 L633.5 392.61 L634.4 390.3 L635.3 387.94 L636.2 385.54 L637.1 383.11 L638 380.65 L638.9 378.18 L639.8 375.69 L640.7 373.21 L641.6 370.73 L642.5 368.28 L643.4 365.85 L644.3 363.47 L645.2 361.14 L646.1 358.88 L647 356.68 L647.9 354.57 L648.8 352.56 L649.7 350.65 L650.6 348.86 L651.5 347.2 L652.4 345.66 L653.3 344.27 L654.2 343.03 L655.1 341.95 L656 341.03 L656.9 340.28 L657.8 339.7 L658.7 339.3 L659.6 339.07 L660.5 339.03 L661.4 339.16 L662.3 339.49 L663.2 340 L664.1 340.69 L665 341.56 L665.9 342.6 L666.8 343.81 L667.7 345.17 L668.6 346.69 L669.5 348.35 L670.4 350.14 L671.3 352.05 L672.2 354.08 L673.1 356.21" fill="none" stroke="#008000" stroke-width="1.8" stroke-linejoin="round" clip-path="url(#cf)"/>
<path d="M467 432.5 L467.9 432.5 L468.8 432.5 L469.7 432.5 L470.6 432.5 L471.5 432.5 L472.4 432.5 L473.3 432.49 L474.2 432.49 L475.1 432.49 L476 432.49 L476.9 432.49 L477.8 432.49 L478.7 432.49 L479.6 432.49 L480.5 432.49 L481.4 432.49 L482.3 432.49 L483.2 432.49 L484.1 432.48 L485 432.48 L485.9 432.48 L486.8 432.48 L487.7 432.48 L488.6 432.48 L489.5 432.47 L490.4 432.47 L491.3 432.47 L492.2 432.47 L493.1 432.46 L494 432.46 L494.9 432.46 L495.8 432.45 L496.7 432.45 L497.6 432.45 L498.5 432.44 L499.4 432.44 L500.3 432.43 L501.2 432.43 L502.1 432.42 L503 432.42 L503.9 432.41 L504.8 432.4 L505.7 432.39 L506.6 432.39 L507.5 432.38 L508.4 432.37 L509.3 432.36 L510.2 432.35 L511.1 432.34 L512 432.32 L512.9 432.31 L513.8 432.3 L514.7 432.28 L515.6 432.27 L516.5 432.25 L517.4 432.23 L518.3 432.21 L519.2 432.19 L520.1 432.17 L521 432.15 L521.9 432.12 L522.8 432.1 L523.7 432.07 L524.6 432.04 L525.5 432.01 L526.4 431.98 L527.3 431.95 L528.2 431.91 L529.1 431.87 L530 431.83 L530.9 431.79 L531.8 431.75 L532.7 431.7 L533.6 431.65 L534.5 431.6 L535.4 431.54 L536.3 431.48 L537.2 431.42 L538.1 431.36 L539 431.29 L539.9 431.22 L540.8 431.15 L541.7 431.07 L542.6 430.99 L543.5 430.9 L544.4 430.81 L545.3 430.72 L546.2 430.62 L547.1 430.52 L548 430.41 L548.9 430.3 L549.8 430.18 L550.7 430.06 L551.6 429.94 L552.5 429.8 L553.4 429.67 L554.3 429.52 L555.2 429.37 L556.1 429.22 L557 429.06 L557.9 428.89 L558.8 428.72 L559.7 428.54 L560.6 428.35 L561.5 428.16 L562.4 427.95 L563.3 427.75 L564.2 427.53 L565.1 427.31 L566 427.08 L566.9 426.84 L567.8 426.6 L568.7 426.35 L569.6 426.09 L570.5 425.82 L571.4 425.54 L572.3 425.26 L573.2 424.97 L574.1 424.67 L575 424.36 L575.9 424.04 L576.8 423.72 L577.7 423.39 L578.6 423.05 L579.5 422.7 L580.4 422.34 L581.3 421.97 L582.2 421.6 L583.1 421.22 L584 420.83 L584.9 420.43 L585.8 420.03 L586.7 419.62 L587.6 419.2 L588.5 418.77 L589.4 418.34 L590.3 417.9 L591.2 417.45 L592.1 416.99 L593 416.53 L593.9 416.07 L594.8 415.6 L595.7 415.12 L596.6 414.64 L597.5 414.15 L598.4 413.66 L599.3 413.16 L600.2 412.66 L601.1 412.16 L602 411.65 L602.9 411.14 L603.8 410.63 L604.7 410.12 L605.6 409.61 L606.5 409.09 L607.4 408.58 L608.3 408.06 L609.2 407.55 L610.1 407.03 L611 406.52 L611.9 406.01 L612.8 405.51 L613.7 405 L614.6 404.5 L615.5 404.01 L616.4 403.51 L617.3 403.03 L618.2 402.55 L619.1 402.07 L620 401.61 L620.9 401.15 L621.8 400.7 L622.7 400.25 L623.6 399.82 L624.5 399.4 L625.4 398.98 L626.3 398.58 L627.2 398.19 L628.1 397.81 L629 397.44 L629.9 397.08 L630.8 396.74 L631.7 396.41 L632.6 396.1 L633.5 395.79 L634.4 395.51 L635.3 395.24 L636.2 394.98 L637.1 394.74 L638 394.52 L638.9 394.31 L639.8 394.13 L640.7 393.95 L641.6 393.8 L642.5 393.66 L643.4 393.54 L644.3 393.44 L645.2 393.35 L646.1 393.29 L647 393.24 L647.9 393.21 L648.8 393.2 L649.7 393.21 L650.6 393.24 L651.5 393.3 L652.4 393.38 L653.3 393.49 L654.2 393.61 L655.1 393.76 L656 393.94 L656.9 394.14 L657.8 394.35 L658.7 394.59 L659.6 394.86 L660.5 395.14 L661.4 395.44 L662.3 395.76 L663.2 396.11 L664.1 396.47 L665 396.85 L665.9 397.24 L666.8 397.66 L667.7 398.09 L668.6 398.53 L669.5 398.99 L670.4 399.46 L671.3 399.95 L672.2 400.45 L673.1 400.96" fill="none" stroke="#008000" stroke-width="1.9" stroke-dasharray="7.8 7" stroke-dashoffset="0.23" clip-path="url(#cf)"/>
<path d="M467 432.27 L467.9 432.3 L468.8 432.35 L469.7 432.31 L470.6 432.22 L471.5 432.24 L472.4 432.24 L473.3 432.24 L474.2 432.19 L475.1 432.24 L476 432.28 L476.9 432.31 L477.8 432.28 L478.7 432.23 L479.6 432.2 L480.5 432.27 L481.4 432.18 L482.3 432.22 L483.2 432.19 L484.1 432.14 L485 432.13 L485.9 432.14 L486.8 432.18 L487.7 432.19 L488.6 432.2 L489.5 432.08 L490.4 432.1 L491.3 432.1 L492.2 432.12 L493.1 432.01 L494 432.06 L494.9 432.08 L495.8 432.03 L496.7 432.11 L497.6 432.11 L498.5 432.13 L499.4 432.1 L500.3 431.97 L501.2 431.93 L502.1 431.97 L503 432.03 L503.9 432 L504.8 431.87 L505.7 431.81 L506.6 431.77 L507.5 431.75 L508.4 431.74 L509.3 431.78 L510.2 431.86 L511.1 431.66 L512 431.57 L512.9 431.55 L513.8 431.4 L514.7 431.37 L515.6 431.41 L516.5 431.38 L517.4 431.22 L518.3 431.34 L519.2 431.22 L520.1 431.19 L521 431.26 L521.9 431.24 L522.8 431.21 L523.7 431.06 L524.6 430.97 L525.5 430.91 L526.4 430.8 L527.3 430.92 L528.2 430.67 L529.1 430.62 L530 430.95 L530.9 430.68 L531.8 430.51 L532.7 430.78 L533.6 430.61 L534.5 430.56 L535.4 430.29 L536.3 430.12 L537.2 429.8 L538.1 429.63 L539 429.75 L539.9 429.94 L540.8 430.18 L541.7 430.23 L542.6 429.63 L543.5 429.57 L544.4 429.25 L545.3 428.98 L546.2 428.56 L547.1 428.37 L548 428.36 L548.9 428.27 L549.8 428.32 L550.7 428.25 L551.6 428.44 L552.5 428.18 L553.4 428.01 L554.3 428.05 L555.2 427.77 L556.1 427.4 L557 427.17 L557.9 427.1 L558.8 427.22 L559.7 427.04 L560.6 426.77 L561.5 426.55 L562.4 426.14 L563.3 425.95 L564.2 425.59 L565.1 425.88 L566 425.61 L566.9 425.37 L567.8 425.25 L568.7 424.9 L569.6 424.72 L570.5 424.81 L571.4 424.32 L572.3 423.8 L573.2 423.65 L574.1 423.23 L575 423.6 L575.9 423.15 L576.8 423 L577.7 423.45 L578.6 423.18 L579.5 422.31 L580.4 422.04 L581.3 422.05 L582.2 421.83 L583.1 421.08 L584 420.87 L584.9 420.81 L585.8 420.27 L586.7 419.91 L587.6 419.31 L588.5 418.31 L589.4 417.57 L590.3 416.82 L591.2 417.2 L592.1 417.32 L593 416.44 L593.9 416.49 L594.8 416.05 L595.7 415.08 L596.6 414.41 L597.5 413.76 L598.4 412.89 L599.3 412.41 L600.2 412.04 L601.1 411.7 L602 410.96 L602.9 409.83 L603.8 409.26 L604.7 408.05 L605.6 407.26 L606.5 406.59 L607.4 405.51 L608.3 404.45 L609.2 403.45 L610.1 402.03 L611 400.79 L611.9 400 L612.8 399.24 L613.7 397.97 L614.6 397.18 L615.5 394.72 L616.4 391.68 L617.3 391.09 L618.2 390.53 L619.1 388.05 L620 385.48 L620.9 383.6 L621.8 382.79 L622.7 381.15 L623.6 379.08 L624.5 377.32 L625.4 376 L626.3 373.67 L627.2 370.92 L628.1 369.77 L629 367.87 L629.9 365.73 L630.8 363.87 L631.7 360.51 L632.6 356.72 L633.5 356.21 L634.4 353.91 L635.3 350.1 L636.2 346.91 L637.1 344.08 L638 340.66 L638.9 338.53 L639.8 335.88 L640.7 333.04 L641.6 330.24 L642.5 328.33 L643.4 327.41 L644.3 325.48 L645.2 322.43 L646.1 319.25 L647 316.46 L647.9 315.38 L648.8 313.56 L649.7 310.18 L650.6 309.09 L651.5 306.2 L652.4 305.65 L653.3 305.06 L654.2 302.68 L655.1 301.54 L656 302.21 L656.9 302.2 L657.8 301.18 L658.7 300.94 L659.6 298.92 L660.5 299.46 L661.4 299.38 L662.3 300.09 L663.2 301.54 L664.1 303.21 L665 306.14 L665.9 308.42 L666.8 309.16 L667.7 310 L668.6 311.12 L669.5 313.39 L670.4 316.08 L671.3 318.28 L672.2 320.46 L673.1 322.72" fill="none" stroke="#0000ff" stroke-width="1.8" stroke-linejoin="round" clip-path="url(#cf)"/>
<g fill="#fff" stroke="#1010ff" stroke-width="0.75" clip-path="url(#cf)"><circle cx="468.5" cy="431.7" r="2.15"/><circle cx="471.61" cy="431.7" r="2.15"/><circle cx="474.72" cy="431.7" r="2.15"/><circle cx="477.83" cy="431.7" r="2.15"/><circle cx="480.94" cy="431.7" r="2.15"/><circle cx="484.05" cy="431.7" r="2.15"/><circle cx="487.16" cy="431.7" r="2.15"/><circle cx="490.27" cy="431.7" r="2.15"/><circle cx="493.38" cy="431.7" r="2.15"/><circle cx="496.49" cy="431.7" r="2.15"/><circle cx="499.6" cy="431.7" r="2.15"/><circle cx="502.71" cy="431.7" r="2.15"/><circle cx="505.82" cy="431.7" r="2.15"/><circle cx="508.93" cy="431.7" r="2.15"/><circle cx="512.04" cy="431.7" r="2.15"/><circle cx="515.15" cy="431.7" r="2.15"/><circle cx="518.26" cy="431.7" r="2.15"/><circle cx="521.37" cy="431.7" r="2.15"/><circle cx="524.48" cy="431.7" r="2.15"/><circle cx="527.59" cy="431.7" r="2.15"/><circle cx="530.7" cy="431.7" r="2.15"/><circle cx="533.81" cy="431.64" r="2.15"/><circle cx="536.92" cy="431.44" r="2.15"/><circle cx="540.03" cy="431.21" r="2.15"/><circle cx="543.14" cy="430.94" r="2.15"/><circle cx="546.25" cy="430.62" r="2.15"/><circle cx="549.36" cy="430.24" r="2.15"/><circle cx="552.47" cy="429.81" r="2.15"/><circle cx="555.58" cy="429.31" r="2.15"/><circle cx="558.69" cy="428.74" r="2.15"/><circle cx="561.8" cy="428.09" r="2.15"/><circle cx="564.91" cy="427.36" r="2.15"/><circle cx="568.02" cy="426.53" r="2.15"/><circle cx="571.13" cy="425.62" r="2.15"/><circle cx="574.24" cy="424.61" r="2.15"/><circle cx="577.35" cy="423.49" r="2.15"/><circle cx="580.46" cy="422.27" r="2.15"/><circle cx="583.57" cy="420.93" r="2.15"/><circle cx="586.68" cy="419.48" r="2.15"/><circle cx="589.79" cy="417.89" r="2.15"/><circle cx="592.9" cy="416.16" r="2.15"/><circle cx="596.01" cy="414.26" r="2.15"/><circle cx="599.12" cy="412.16" r="2.15"/><circle cx="602.23" cy="409.81" r="2.15"/><circle cx="605.34" cy="407.16" r="2.15"/><circle cx="608.45" cy="404.13" r="2.15"/><circle cx="611.56" cy="400.63" r="2.15"/><circle cx="614.67" cy="396.56" r="2.15"/><circle cx="617.78" cy="391.83" r="2.15"/><circle cx="620.89" cy="386.34" r="2.15"/><circle cx="624" cy="380.04" r="2.15"/><circle cx="627.11" cy="372.91" r="2.15"/><circle cx="630.22" cy="364.99" r="2.15"/><circle cx="633.33" cy="356.39" r="2.15"/><circle cx="636.44" cy="347.32" r="2.15"/><circle cx="639.55" cy="338.06" r="2.15"/><circle cx="642.66" cy="328.98" r="2.15"/><circle cx="645.77" cy="320.51" r="2.15"/><circle cx="648.88" cy="313.09" r="2.15"/><circle cx="651.99" cy="307.19" r="2.15"/><circle cx="655.1" cy="303.22" r="2.15"/><circle cx="658.21" cy="301.45" r="2.15"/><circle cx="661.32" cy="302.06" r="2.15"/><circle cx="664.43" cy="305.09" r="2.15"/><circle cx="667.54" cy="310.43" r="2.15"/><circle cx="670.65" cy="317.76" r="2.15"/><circle cx="673.76" cy="326.67" r="2.15"/><circle cx="676.87" cy="336.69" r="2.15"/></g>
<g font-family="Liberation Sans, sans-serif" fill="#000">
<text x="49.8" y="200.3" font-size="11.2" text-anchor="end">0</text>
<text x="49.8" y="152.5" font-size="11.2" text-anchor="end">1000</text>
<text x="49.8" y="104.7" font-size="11.2" text-anchor="end">2000</text>
<text x="49.8" y="56.9" font-size="11.2" text-anchor="end">3000</text>
<text x="49.8" y="9.1" font-size="11.2" text-anchor="end">4000</text>
<text x="49.8" y="435.4" font-size="11.2" text-anchor="end">0</text>
<text x="49.8" y="403.57" font-size="11.2" text-anchor="end">1000</text>
<text x="49.8" y="371.74" font-size="11.2" text-anchor="end">2000</text>
<text x="49.8" y="339.91" font-size="11.2" text-anchor="end">3000</text>
<text x="49.8" y="308.08" font-size="11.2" text-anchor="end">4000</text>
<text x="49.8" y="276.25" font-size="11.2" text-anchor="end">5000</text>
<text x="49.8" y="244.42" font-size="11.2" text-anchor="end">6000</text>
<text x="87.97" y="209.5" font-size="11.2" text-anchor="middle">0.05</text>
<text x="122.43" y="209.5" font-size="11.2" text-anchor="middle">0.10</text>
<text x="156.9" y="209.5" font-size="11.2" text-anchor="middle">0.15</text>
<text x="191.37" y="209.5" font-size="11.2" text-anchor="middle">0.20</text>
<text x="225.83" y="209.5" font-size="11.2" text-anchor="middle">0.25</text>
<text x="256.8" y="209.5" font-size="11.2" text-anchor="start">0.0</text>
<text x="294.75" y="209.5" font-size="11.2" text-anchor="middle">0.05</text>
<text x="329.2" y="209.5" font-size="11.2" text-anchor="middle">0.10</text>
<text x="363.65" y="209.5" font-size="11.2" text-anchor="middle">0.15</text>
<text x="398.1" y="209.5" font-size="11.2" text-anchor="middle">0.20</text>
<text x="432.55" y="209.5" font-size="11.2" text-anchor="middle">0.25</text>
<text x="463.3" y="209.5" font-size="11.2" text-anchor="start">0.0</text>
<text x="501.43" y="209.5" font-size="11.2" text-anchor="middle">0.05</text>
<text x="535.87" y="209.5" font-size="11.2" text-anchor="middle">0.10</text>
<text x="570.3" y="209.5" font-size="11.2" text-anchor="middle">0.15</text>
<text x="604.73" y="209.5" font-size="11.2" text-anchor="middle">0.20</text>
<text x="639.17" y="209.5" font-size="11.2" text-anchor="middle">0.25</text>
<text x="673.6" y="209.5" font-size="11.2" text-anchor="middle">0.30</text>
<text x="53.5" y="444.8" font-size="11.2" text-anchor="middle">-0.10</text>
<text x="94.88" y="444.8" font-size="11.2" text-anchor="middle">-0.08</text>
<text x="136.26" y="444.8" font-size="11.2" text-anchor="middle">-0.06</text>
<text x="177.64" y="444.8" font-size="11.2" text-anchor="middle">-0.04</text>
<text x="219.02" y="444.8" font-size="11.2" text-anchor="middle">-0.02</text>
<text x="248.4" y="444.8" font-size="11.2" text-anchor="start">0.0</text>
<text x="301.72" y="444.8" font-size="11.2" text-anchor="middle">-0.08</text>
<text x="343.04" y="444.8" font-size="11.2" text-anchor="middle">-0.06</text>
<text x="384.36" y="444.8" font-size="11.2" text-anchor="middle">-0.04</text>
<text x="425.68" y="444.8" font-size="11.2" text-anchor="middle">-0.02</text>
<text x="455" y="444.8" font-size="11.2" text-anchor="start">0.0</text>
<text x="508.32" y="444.8" font-size="11.2" text-anchor="middle">-0.08</text>
<text x="549.64" y="444.8" font-size="11.2" text-anchor="middle">-0.06</text>
<text x="590.96" y="444.8" font-size="11.2" text-anchor="middle">-0.04</text>
<text x="632.28" y="444.8" font-size="11.2" text-anchor="middle">-0.02</text>
<text x="673.6" y="444.8" font-size="11.2" text-anchor="middle">0.00</text>
<text x="13.1" y="119.7" font-size="16.5" text-anchor="start" transform="rotate(-90 13.1 119.7)">Frequency</text>
<text x="13.1" y="366.2" font-size="16.5" text-anchor="start" transform="rotate(-90 13.1 366.2)">Frequency</text>
<text x="254.8" y="231.2" font-size="16.5" text-anchor="start" font-weight="bold">Total linear retardance (rad)</text>
<text x="280.5" y="466.3" font-size="16.5" text-anchor="start" font-weight="bold">Linear depolarization</text>
<text x="236.4" y="22.5" font-size="16.8" text-anchor="start">(a)</text>
<text x="443.2" y="25.4" font-size="16.8" text-anchor="start">(b)</text>
<text x="647.3" y="25.7" font-size="16.8" text-anchor="start">(c)</text>
<text x="234.4" y="257.6" font-size="16.8" text-anchor="start">(d)</text>
<text x="443.2" y="259.7" font-size="16.8" text-anchor="start">(e)</text>
<text x="651.1" y="260.7" font-size="16.8" text-anchor="start">(f)</text>
</g>
<path d="M156.8 20.1 H175" stroke="#ff0000" stroke-width="1.9"/>
<path d="M156.8 35.2 H175" stroke="#0000ff" stroke-width="1.9"/>
<path d="M357.2 26.1 H375.4" stroke="#ff0000" stroke-width="1.9"/>
<path d="M357.2 41 H375.4" stroke="#008000" stroke-width="1.9"/>
<path d="M357.2 56.6 H375.4" stroke="#008000" stroke-width="1.9" stroke-dasharray="6.4 8.1"/>
<circle cx="366.5" cy="72" r="3.3" fill="#fff" stroke="#ff0000" stroke-width="0.8"/>
<path d="M558.1 21.9 H575.8" stroke="#0000ff" stroke-width="1.9"/>
<path d="M558.1 37.1 H575.8" stroke="#008000" stroke-width="1.9"/>
<path d="M558.1 52.3 H575.8" stroke="#008000" stroke-width="1.9" stroke-dasharray="6.2 7.6"/>
<circle cx="566.7" cy="67.9" r="3.3" fill="#fff" stroke="#1010ff" stroke-width="0.8"/>
<path d="M69.9 266 H87.7" stroke="#ff0000" stroke-width="1.9"/>
<path d="M69.9 281.3 H87.7" stroke="#0000ff" stroke-width="1.9"/>
<path d="M283.2 263.9 H301.4" stroke="#ff0000" stroke-width="1.9"/>
<path d="M283.2 279 H301.4" stroke="#008000" stroke-width="1.9"/>
<path d="M283.2 293.9 H301.4" stroke="#008000" stroke-width="1.9" stroke-dasharray="6.7 7.4"/>
<circle cx="292.2" cy="308.9" r="3.3" fill="#fff" stroke="#ff0000" stroke-width="0.8"/>
<path d="M496.2 290.5 H514.5" stroke="#008000" stroke-width="1.9"/>
<path d="M496.2 305.8 H514.5" stroke="#008000" stroke-width="1.9" stroke-dasharray="6.9 7.7"/>
<circle cx="505.6" cy="321" r="3.3" fill="#fff" stroke="#1010ff" stroke-width="0.8"/>
<g font-family="Liberation Sans, sans-serif" fill="#000" font-size="12.6">
<text x="178.4" y="22.5">Day 6</text>
<text x="178.4" y="38.2">Day 18</text>
<text x="378.7" y="28.5">Day 6</text>
<text x="378.7" y="43.7">Peak1</text>
<text x="378.7" y="59">Peak2</text>
<text x="378.7" y="74.2">PeakSum</text>
<text x="579.1" y="25.2">Day 18</text>
<text x="579.1" y="40.1">Peak1</text>
<text x="579.1" y="55">Peak2</text>
<text x="579.1" y="70.2">PeakSum</text>
<text x="91.2" y="269.1">Day 6</text>
<text x="91.2" y="284.4">Day 18</text>
<text x="304.5" y="266.4">Day 6</text>
<text x="304.5" y="281.7">Peak1</text>
<text x="304.5" y="296.8">Peak2</text>
<text x="304.5" y="312.1">PeakSum</text>
<text x="500.5" y="277.5">Day 18</text>
<text x="517.7" y="293.4">Peak1</text>
<text x="517.7" y="308.8">Peak2</text>
<text x="517.7" y="324.2">PeakSum</text>
</g>
</svg>
</body></html>
